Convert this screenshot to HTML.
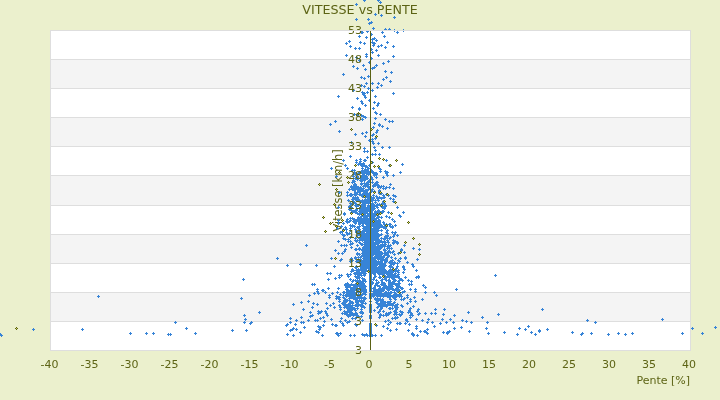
<!DOCTYPE html>
<html lang="fr"><head><meta charset="utf-8"><title>VITESSE vs PENTE</title>
<style>html,body{margin:0;padding:0;background:#ebf0cd;overflow:hidden}svg{display:block}text{font-family:"DejaVu Sans","Liberation Sans",sans-serif;fill:#5c6314}</style></head><body>
<svg width="720" height="400" viewBox="0 0 720 400">
<rect x="0" y="0" width="720" height="400" fill="#ebf0cd"/>
<rect x="50" y="30" width="641" height="321" fill="#ffffff"/>
<rect x="50" y="59" width="641" height="29" fill="#f4f4f4"/>
<rect x="50" y="117" width="641" height="29" fill="#f4f4f4"/>
<rect x="50" y="175" width="641" height="30" fill="#f4f4f4"/>
<rect x="50" y="234" width="641" height="29" fill="#f4f4f4"/>
<rect x="50" y="292" width="641" height="29" fill="#f4f4f4"/>
<rect x="50" y="30" width="641" height="1" fill="#dedede"/>
<rect x="50" y="59" width="641" height="1" fill="#dedede"/>
<rect x="50" y="88" width="641" height="1" fill="#dedede"/>
<rect x="50" y="117" width="641" height="1" fill="#dedede"/>
<rect x="50" y="146" width="641" height="1" fill="#dedede"/>
<rect x="50" y="175" width="641" height="1" fill="#dedede"/>
<rect x="50" y="205" width="641" height="1" fill="#dedede"/>
<rect x="50" y="234" width="641" height="1" fill="#dedede"/>
<rect x="50" y="263" width="641" height="1" fill="#dedede"/>
<rect x="50" y="292" width="641" height="1" fill="#dedede"/>
<rect x="50" y="321" width="641" height="1" fill="#dedede"/>
<rect x="50" y="350" width="641" height="1" fill="#dedede"/>
<rect x="50" y="30" width="1" height="321" fill="#dedede"/>
<rect x="690" y="30" width="1" height="321" fill="#dedede"/>
<g font-size="11" text-anchor="middle">
<text x="49.5" y="368">-40</text>
<text x="89.5" y="368">-35</text>
<text x="129.5" y="368">-30</text>
<text x="169.5" y="368">-25</text>
<text x="209.5" y="368">-20</text>
<text x="249.5" y="368">-15</text>
<text x="289.5" y="368">-10</text>
<text x="329.5" y="368">-5</text>
<text x="369.0" y="368">0</text>
<text x="409.0" y="368">5</text>
<text x="449.0" y="368">10</text>
<text x="489.0" y="368">15</text>
<text x="529.0" y="368">20</text>
<text x="569.0" y="368">25</text>
<text x="609.0" y="368">30</text>
<text x="649.0" y="368">35</text>
<text x="689.0" y="368">40</text>
</g>
<text x="690" y="383.5" font-size="11" text-anchor="end">Pente [%]</text>
<text x="360" y="13.6" font-size="12.7" text-anchor="middle">VITESSE vs PENTE</text>
<text transform="translate(341.8,190.4) rotate(-90)" font-size="11.4" text-anchor="middle">Vitesse [km/h]</text>
<path fill="#3784d7" d="M338 222h1v1h1v1h-1v1h-1v-1h-1v-1h1zM338 240h1v1h1v1h-1v1h-1v-1h-1v-1h1zM338 296h1v1h1v1h-1v1h-1v-1h-1v-1h1zM339 296h1v1h1v1h-1v1h-1v-1h-1v-1h1zM339 300h1v1h1v1h-1v1h-1v-1h-1v-1h1zM339 304h1v1h1v1h-1v1h-1v-1h-1v-1h1zM340 259h1v1h1v1h-1v1h-1v-1h-1v-1h1zM340 293h1v1h1v1h-1v1h-1v-1h-1v-1h1zM340 306h1v1h1v1h-1v1h-1v-1h-1v-1h1zM340 308h1v1h1v1h-1v1h-1v-1h-1v-1h1zM341 244h1v1h1v1h-1v1h-1v-1h-1v-1h1zM341 258h1v1h1v1h-1v1h-1v-1h-1v-1h1zM341 274h1v1h1v1h-1v1h-1v-1h-1v-1h1zM341 317h1v1h1v1h-1v1h-1v-1h-1v-1h1zM342 230h1v1h1v1h-1v1h-1v-1h-1v-1h1zM342 233h1v1h1v1h-1v1h-1v-1h-1v-1h1zM342 252h1v1h1v1h-1v1h-1v-1h-1v-1h1zM342 302h1v1h1v1h-1v1h-1v-1h-1v-1h1zM342 312h1v1h1v1h-1v1h-1v-1h-1v-1h1zM343 228h1v1h1v1h-1v1h-1v-1h-1v-1h1zM343 234h1v1h1v1h-1v1h-1v-1h-1v-1h1zM343 237h1v1h1v1h-1v1h-1v-1h-1v-1h1zM343 291h1v1h1v1h-1v1h-1v-1h-1v-1h1zM343 294h1v1h1v1h-1v1h-1v-1h-1v-1h1zM343 296h1v1h1v1h-1v1h-1v-1h-1v-1h1zM343 301h1v1h1v1h-1v1h-1v-1h-1v-1h1zM343 302h1v1h1v1h-1v1h-1v-1h-1v-1h1zM343 303h1v1h1v1h-1v1h-1v-1h-1v-1h1zM344 212h1v1h1v1h-1v1h-1v-1h-1v-1h1zM344 213h1v1h1v1h-1v1h-1v-1h-1v-1h1zM344 234h1v1h1v1h-1v1h-1v-1h-1v-1h1zM344 244h1v1h1v1h-1v1h-1v-1h-1v-1h1zM344 250h1v1h1v1h-1v1h-1v-1h-1v-1h1zM344 291h1v1h1v1h-1v1h-1v-1h-1v-1h1zM344 297h1v1h1v1h-1v1h-1v-1h-1v-1h1zM344 299h1v1h1v1h-1v1h-1v-1h-1v-1h1zM344 300h1v1h1v1h-1v1h-1v-1h-1v-1h1zM344 301h1v1h1v1h-1v1h-1v-1h-1v-1h1zM344 304h1v1h1v1h-1v1h-1v-1h-1v-1h1zM344 306h1v1h1v1h-1v1h-1v-1h-1v-1h1zM344 310h1v1h1v1h-1v1h-1v-1h-1v-1h1zM344 312h1v1h1v1h-1v1h-1v-1h-1v-1h1zM345 238h1v1h1v1h-1v1h-1v-1h-1v-1h1zM345 248h1v1h1v1h-1v1h-1v-1h-1v-1h1zM345 283h1v1h1v1h-1v1h-1v-1h-1v-1h1zM345 284h1v1h1v1h-1v1h-1v-1h-1v-1h1zM345 298h1v1h1v1h-1v1h-1v-1h-1v-1h1zM345 301h1v1h1v1h-1v1h-1v-1h-1v-1h1zM345 303h1v1h1v1h-1v1h-1v-1h-1v-1h1zM345 304h1v1h1v1h-1v1h-1v-1h-1v-1h1zM346 220h1v1h1v1h-1v1h-1v-1h-1v-1h1zM346 228h1v1h1v1h-1v1h-1v-1h-1v-1h1zM346 231h1v1h1v1h-1v1h-1v-1h-1v-1h1zM346 244h1v1h1v1h-1v1h-1v-1h-1v-1h1zM346 286h1v1h1v1h-1v1h-1v-1h-1v-1h1zM346 288h1v1h1v1h-1v1h-1v-1h-1v-1h1zM346 291h1v1h1v1h-1v1h-1v-1h-1v-1h1zM346 293h1v1h1v1h-1v1h-1v-1h-1v-1h1zM346 294h1v1h1v1h-1v1h-1v-1h-1v-1h1zM346 295h1v1h1v1h-1v1h-1v-1h-1v-1h1zM346 300h1v1h1v1h-1v1h-1v-1h-1v-1h1zM346 306h1v1h1v1h-1v1h-1v-1h-1v-1h1zM346 311h1v1h1v1h-1v1h-1v-1h-1v-1h1zM346 312h1v1h1v1h-1v1h-1v-1h-1v-1h1zM346 313h1v1h1v1h-1v1h-1v-1h-1v-1h1zM347 191h1v1h1v1h-1v1h-1v-1h-1v-1h1zM347 194h1v1h1v1h-1v1h-1v-1h-1v-1h1zM347 218h1v1h1v1h-1v1h-1v-1h-1v-1h1zM347 220h1v1h1v1h-1v1h-1v-1h-1v-1h1zM347 221h1v1h1v1h-1v1h-1v-1h-1v-1h1zM347 233h1v1h1v1h-1v1h-1v-1h-1v-1h1zM347 273h1v1h1v1h-1v1h-1v-1h-1v-1h1zM347 282h1v1h1v1h-1v1h-1v-1h-1v-1h1zM347 284h1v1h1v1h-1v1h-1v-1h-1v-1h1zM347 286h1v1h1v1h-1v1h-1v-1h-1v-1h1zM347 288h1v1h1v1h-1v1h-1v-1h-1v-1h1zM347 291h1v1h1v1h-1v1h-1v-1h-1v-1h1zM347 299h1v1h1v1h-1v1h-1v-1h-1v-1h1zM347 306h1v1h1v1h-1v1h-1v-1h-1v-1h1zM347 307h1v1h1v1h-1v1h-1v-1h-1v-1h1zM347 311h1v1h1v1h-1v1h-1v-1h-1v-1h1zM347 313h1v1h1v1h-1v1h-1v-1h-1v-1h1zM347 314h1v1h1v1h-1v1h-1v-1h-1v-1h1zM348 199h1v1h1v1h-1v1h-1v-1h-1v-1h1zM348 238h1v1h1v1h-1v1h-1v-1h-1v-1h1zM348 240h1v1h1v1h-1v1h-1v-1h-1v-1h1zM348 275h1v1h1v1h-1v1h-1v-1h-1v-1h1zM348 284h1v1h1v1h-1v1h-1v-1h-1v-1h1zM348 285h1v1h1v1h-1v1h-1v-1h-1v-1h1zM348 289h1v1h1v1h-1v1h-1v-1h-1v-1h1zM348 291h1v1h1v1h-1v1h-1v-1h-1v-1h1zM348 294h1v1h1v1h-1v1h-1v-1h-1v-1h1zM348 303h1v1h1v1h-1v1h-1v-1h-1v-1h1zM348 304h1v1h1v1h-1v1h-1v-1h-1v-1h1zM348 306h1v1h1v1h-1v1h-1v-1h-1v-1h1zM348 309h1v1h1v1h-1v1h-1v-1h-1v-1h1zM348 314h1v1h1v1h-1v1h-1v-1h-1v-1h1zM348 315h1v1h1v1h-1v1h-1v-1h-1v-1h1zM349 188h1v1h1v1h-1v1h-1v-1h-1v-1h1zM349 205h1v1h1v1h-1v1h-1v-1h-1v-1h1zM349 206h1v1h1v1h-1v1h-1v-1h-1v-1h1zM349 208h1v1h1v1h-1v1h-1v-1h-1v-1h1zM349 220h1v1h1v1h-1v1h-1v-1h-1v-1h1zM349 232h1v1h1v1h-1v1h-1v-1h-1v-1h1zM349 284h1v1h1v1h-1v1h-1v-1h-1v-1h1zM349 285h1v1h1v1h-1v1h-1v-1h-1v-1h1zM349 290h1v1h1v1h-1v1h-1v-1h-1v-1h1zM349 291h1v1h1v1h-1v1h-1v-1h-1v-1h1zM349 292h1v1h1v1h-1v1h-1v-1h-1v-1h1zM349 293h1v1h1v1h-1v1h-1v-1h-1v-1h1zM349 294h1v1h1v1h-1v1h-1v-1h-1v-1h1zM349 297h1v1h1v1h-1v1h-1v-1h-1v-1h1zM349 299h1v1h1v1h-1v1h-1v-1h-1v-1h1zM349 302h1v1h1v1h-1v1h-1v-1h-1v-1h1zM349 305h1v1h1v1h-1v1h-1v-1h-1v-1h1zM349 306h1v1h1v1h-1v1h-1v-1h-1v-1h1zM349 307h1v1h1v1h-1v1h-1v-1h-1v-1h1zM349 310h1v1h1v1h-1v1h-1v-1h-1v-1h1zM349 311h1v1h1v1h-1v1h-1v-1h-1v-1h1zM349 314h1v1h1v1h-1v1h-1v-1h-1v-1h1zM350 193h1v1h1v1h-1v1h-1v-1h-1v-1h1zM350 194h1v1h1v1h-1v1h-1v-1h-1v-1h1zM350 202h1v1h1v1h-1v1h-1v-1h-1v-1h1zM350 205h1v1h1v1h-1v1h-1v-1h-1v-1h1zM350 207h1v1h1v1h-1v1h-1v-1h-1v-1h1zM350 217h1v1h1v1h-1v1h-1v-1h-1v-1h1zM350 219h1v1h1v1h-1v1h-1v-1h-1v-1h1zM350 224h1v1h1v1h-1v1h-1v-1h-1v-1h1zM350 227h1v1h1v1h-1v1h-1v-1h-1v-1h1zM350 229h1v1h1v1h-1v1h-1v-1h-1v-1h1zM350 236h1v1h1v1h-1v1h-1v-1h-1v-1h1zM350 240h1v1h1v1h-1v1h-1v-1h-1v-1h1zM350 243h1v1h1v1h-1v1h-1v-1h-1v-1h1zM350 260h1v1h1v1h-1v1h-1v-1h-1v-1h1zM350 273h1v1h1v1h-1v1h-1v-1h-1v-1h1zM350 278h1v1h1v1h-1v1h-1v-1h-1v-1h1zM350 284h1v1h1v1h-1v1h-1v-1h-1v-1h1zM350 286h1v1h1v1h-1v1h-1v-1h-1v-1h1zM350 289h1v1h1v1h-1v1h-1v-1h-1v-1h1zM350 293h1v1h1v1h-1v1h-1v-1h-1v-1h1zM350 295h1v1h1v1h-1v1h-1v-1h-1v-1h1zM350 300h1v1h1v1h-1v1h-1v-1h-1v-1h1zM350 304h1v1h1v1h-1v1h-1v-1h-1v-1h1zM350 305h1v1h1v1h-1v1h-1v-1h-1v-1h1zM350 309h1v1h1v1h-1v1h-1v-1h-1v-1h1zM350 310h1v1h1v1h-1v1h-1v-1h-1v-1h1zM350 314h1v1h1v1h-1v1h-1v-1h-1v-1h1zM351 185h1v1h1v1h-1v1h-1v-1h-1v-1h1zM351 186h1v1h1v1h-1v1h-1v-1h-1v-1h1zM351 193h1v1h1v1h-1v1h-1v-1h-1v-1h1zM351 194h1v1h1v1h-1v1h-1v-1h-1v-1h1zM351 206h1v1h1v1h-1v1h-1v-1h-1v-1h1zM351 207h1v1h1v1h-1v1h-1v-1h-1v-1h1zM351 209h1v1h1v1h-1v1h-1v-1h-1v-1h1zM351 211h1v1h1v1h-1v1h-1v-1h-1v-1h1zM351 246h1v1h1v1h-1v1h-1v-1h-1v-1h1zM351 257h1v1h1v1h-1v1h-1v-1h-1v-1h1zM351 270h1v1h1v1h-1v1h-1v-1h-1v-1h1zM351 283h1v1h1v1h-1v1h-1v-1h-1v-1h1zM351 288h1v1h1v1h-1v1h-1v-1h-1v-1h1zM351 290h1v1h1v1h-1v1h-1v-1h-1v-1h1zM351 292h1v1h1v1h-1v1h-1v-1h-1v-1h1zM351 295h1v1h1v1h-1v1h-1v-1h-1v-1h1zM351 296h1v1h1v1h-1v1h-1v-1h-1v-1h1zM351 305h1v1h1v1h-1v1h-1v-1h-1v-1h1zM351 306h1v1h1v1h-1v1h-1v-1h-1v-1h1zM351 308h1v1h1v1h-1v1h-1v-1h-1v-1h1zM351 309h1v1h1v1h-1v1h-1v-1h-1v-1h1zM351 312h1v1h1v1h-1v1h-1v-1h-1v-1h1zM352 169h1v1h1v1h-1v1h-1v-1h-1v-1h1zM352 181h1v1h1v1h-1v1h-1v-1h-1v-1h1zM352 188h1v1h1v1h-1v1h-1v-1h-1v-1h1zM352 198h1v1h1v1h-1v1h-1v-1h-1v-1h1zM352 200h1v1h1v1h-1v1h-1v-1h-1v-1h1zM352 203h1v1h1v1h-1v1h-1v-1h-1v-1h1zM352 217h1v1h1v1h-1v1h-1v-1h-1v-1h1zM352 224h1v1h1v1h-1v1h-1v-1h-1v-1h1zM352 225h1v1h1v1h-1v1h-1v-1h-1v-1h1zM352 242h1v1h1v1h-1v1h-1v-1h-1v-1h1zM352 259h1v1h1v1h-1v1h-1v-1h-1v-1h1zM352 268h1v1h1v1h-1v1h-1v-1h-1v-1h1zM352 269h1v1h1v1h-1v1h-1v-1h-1v-1h1zM352 280h1v1h1v1h-1v1h-1v-1h-1v-1h1zM352 287h1v1h1v1h-1v1h-1v-1h-1v-1h1zM352 292h1v1h1v1h-1v1h-1v-1h-1v-1h1zM352 294h1v1h1v1h-1v1h-1v-1h-1v-1h1zM352 295h1v1h1v1h-1v1h-1v-1h-1v-1h1zM352 301h1v1h1v1h-1v1h-1v-1h-1v-1h1zM352 302h1v1h1v1h-1v1h-1v-1h-1v-1h1zM352 304h1v1h1v1h-1v1h-1v-1h-1v-1h1zM352 312h1v1h1v1h-1v1h-1v-1h-1v-1h1zM352 313h1v1h1v1h-1v1h-1v-1h-1v-1h1zM352 317h1v1h1v1h-1v1h-1v-1h-1v-1h1zM353 173h1v1h1v1h-1v1h-1v-1h-1v-1h1zM353 175h1v1h1v1h-1v1h-1v-1h-1v-1h1zM353 179h1v1h1v1h-1v1h-1v-1h-1v-1h1zM353 185h1v1h1v1h-1v1h-1v-1h-1v-1h1zM353 196h1v1h1v1h-1v1h-1v-1h-1v-1h1zM353 198h1v1h1v1h-1v1h-1v-1h-1v-1h1zM353 210h1v1h1v1h-1v1h-1v-1h-1v-1h1zM353 220h1v1h1v1h-1v1h-1v-1h-1v-1h1zM353 269h1v1h1v1h-1v1h-1v-1h-1v-1h1zM353 279h1v1h1v1h-1v1h-1v-1h-1v-1h1zM353 284h1v1h1v1h-1v1h-1v-1h-1v-1h1zM353 286h1v1h1v1h-1v1h-1v-1h-1v-1h1zM353 289h1v1h1v1h-1v1h-1v-1h-1v-1h1zM353 292h1v1h1v1h-1v1h-1v-1h-1v-1h1zM353 297h1v1h1v1h-1v1h-1v-1h-1v-1h1zM353 307h1v1h1v1h-1v1h-1v-1h-1v-1h1zM353 314h1v1h1v1h-1v1h-1v-1h-1v-1h1zM354 171h1v1h1v1h-1v1h-1v-1h-1v-1h1zM354 180h1v1h1v1h-1v1h-1v-1h-1v-1h1zM354 183h1v1h1v1h-1v1h-1v-1h-1v-1h1zM354 185h1v1h1v1h-1v1h-1v-1h-1v-1h1zM354 187h1v1h1v1h-1v1h-1v-1h-1v-1h1zM354 189h1v1h1v1h-1v1h-1v-1h-1v-1h1zM354 193h1v1h1v1h-1v1h-1v-1h-1v-1h1zM354 197h1v1h1v1h-1v1h-1v-1h-1v-1h1zM354 201h1v1h1v1h-1v1h-1v-1h-1v-1h1zM354 218h1v1h1v1h-1v1h-1v-1h-1v-1h1zM354 220h1v1h1v1h-1v1h-1v-1h-1v-1h1zM354 225h1v1h1v1h-1v1h-1v-1h-1v-1h1zM354 272h1v1h1v1h-1v1h-1v-1h-1v-1h1zM354 284h1v1h1v1h-1v1h-1v-1h-1v-1h1zM354 285h1v1h1v1h-1v1h-1v-1h-1v-1h1zM354 291h1v1h1v1h-1v1h-1v-1h-1v-1h1zM354 293h1v1h1v1h-1v1h-1v-1h-1v-1h1zM354 295h1v1h1v1h-1v1h-1v-1h-1v-1h1zM354 296h1v1h1v1h-1v1h-1v-1h-1v-1h1zM354 307h1v1h1v1h-1v1h-1v-1h-1v-1h1zM354 308h1v1h1v1h-1v1h-1v-1h-1v-1h1zM355 173h1v1h1v1h-1v1h-1v-1h-1v-1h1zM355 177h1v1h1v1h-1v1h-1v-1h-1v-1h1zM355 183h1v1h1v1h-1v1h-1v-1h-1v-1h1zM355 187h1v1h1v1h-1v1h-1v-1h-1v-1h1zM355 191h1v1h1v1h-1v1h-1v-1h-1v-1h1zM355 194h1v1h1v1h-1v1h-1v-1h-1v-1h1zM355 196h1v1h1v1h-1v1h-1v-1h-1v-1h1zM355 197h1v1h1v1h-1v1h-1v-1h-1v-1h1zM355 202h1v1h1v1h-1v1h-1v-1h-1v-1h1zM355 204h1v1h1v1h-1v1h-1v-1h-1v-1h1zM355 209h1v1h1v1h-1v1h-1v-1h-1v-1h1zM355 211h1v1h1v1h-1v1h-1v-1h-1v-1h1zM355 220h1v1h1v1h-1v1h-1v-1h-1v-1h1zM355 221h1v1h1v1h-1v1h-1v-1h-1v-1h1zM355 222h1v1h1v1h-1v1h-1v-1h-1v-1h1zM355 228h1v1h1v1h-1v1h-1v-1h-1v-1h1zM355 237h1v1h1v1h-1v1h-1v-1h-1v-1h1zM355 239h1v1h1v1h-1v1h-1v-1h-1v-1h1zM355 248h1v1h1v1h-1v1h-1v-1h-1v-1h1zM355 256h1v1h1v1h-1v1h-1v-1h-1v-1h1zM355 257h1v1h1v1h-1v1h-1v-1h-1v-1h1zM355 266h1v1h1v1h-1v1h-1v-1h-1v-1h1zM355 272h1v1h1v1h-1v1h-1v-1h-1v-1h1zM355 275h1v1h1v1h-1v1h-1v-1h-1v-1h1zM355 279h1v1h1v1h-1v1h-1v-1h-1v-1h1zM355 283h1v1h1v1h-1v1h-1v-1h-1v-1h1zM355 287h1v1h1v1h-1v1h-1v-1h-1v-1h1zM355 288h1v1h1v1h-1v1h-1v-1h-1v-1h1zM355 292h1v1h1v1h-1v1h-1v-1h-1v-1h1zM355 294h1v1h1v1h-1v1h-1v-1h-1v-1h1zM355 296h1v1h1v1h-1v1h-1v-1h-1v-1h1zM355 298h1v1h1v1h-1v1h-1v-1h-1v-1h1zM355 304h1v1h1v1h-1v1h-1v-1h-1v-1h1zM355 309h1v1h1v1h-1v1h-1v-1h-1v-1h1zM355 312h1v1h1v1h-1v1h-1v-1h-1v-1h1zM355 313h1v1h1v1h-1v1h-1v-1h-1v-1h1zM355 317h1v1h1v1h-1v1h-1v-1h-1v-1h1zM356 185h1v1h1v1h-1v1h-1v-1h-1v-1h1zM356 192h1v1h1v1h-1v1h-1v-1h-1v-1h1zM356 193h1v1h1v1h-1v1h-1v-1h-1v-1h1zM356 198h1v1h1v1h-1v1h-1v-1h-1v-1h1zM356 199h1v1h1v1h-1v1h-1v-1h-1v-1h1zM356 203h1v1h1v1h-1v1h-1v-1h-1v-1h1zM356 205h1v1h1v1h-1v1h-1v-1h-1v-1h1zM356 208h1v1h1v1h-1v1h-1v-1h-1v-1h1zM356 209h1v1h1v1h-1v1h-1v-1h-1v-1h1zM356 230h1v1h1v1h-1v1h-1v-1h-1v-1h1zM356 231h1v1h1v1h-1v1h-1v-1h-1v-1h1zM356 240h1v1h1v1h-1v1h-1v-1h-1v-1h1zM356 248h1v1h1v1h-1v1h-1v-1h-1v-1h1zM356 260h1v1h1v1h-1v1h-1v-1h-1v-1h1zM356 265h1v1h1v1h-1v1h-1v-1h-1v-1h1zM356 266h1v1h1v1h-1v1h-1v-1h-1v-1h1zM356 269h1v1h1v1h-1v1h-1v-1h-1v-1h1zM356 271h1v1h1v1h-1v1h-1v-1h-1v-1h1zM356 272h1v1h1v1h-1v1h-1v-1h-1v-1h1zM356 276h1v1h1v1h-1v1h-1v-1h-1v-1h1zM356 280h1v1h1v1h-1v1h-1v-1h-1v-1h1zM356 283h1v1h1v1h-1v1h-1v-1h-1v-1h1zM356 286h1v1h1v1h-1v1h-1v-1h-1v-1h1zM356 291h1v1h1v1h-1v1h-1v-1h-1v-1h1zM356 293h1v1h1v1h-1v1h-1v-1h-1v-1h1zM356 297h1v1h1v1h-1v1h-1v-1h-1v-1h1zM356 300h1v1h1v1h-1v1h-1v-1h-1v-1h1zM356 301h1v1h1v1h-1v1h-1v-1h-1v-1h1zM356 312h1v1h1v1h-1v1h-1v-1h-1v-1h1zM356 316h1v1h1v1h-1v1h-1v-1h-1v-1h1zM357 175h1v1h1v1h-1v1h-1v-1h-1v-1h1zM357 176h1v1h1v1h-1v1h-1v-1h-1v-1h1zM357 178h1v1h1v1h-1v1h-1v-1h-1v-1h1zM357 188h1v1h1v1h-1v1h-1v-1h-1v-1h1zM357 191h1v1h1v1h-1v1h-1v-1h-1v-1h1zM357 196h1v1h1v1h-1v1h-1v-1h-1v-1h1zM357 197h1v1h1v1h-1v1h-1v-1h-1v-1h1zM357 198h1v1h1v1h-1v1h-1v-1h-1v-1h1zM357 212h1v1h1v1h-1v1h-1v-1h-1v-1h1zM357 218h1v1h1v1h-1v1h-1v-1h-1v-1h1zM357 219h1v1h1v1h-1v1h-1v-1h-1v-1h1zM357 226h1v1h1v1h-1v1h-1v-1h-1v-1h1zM357 234h1v1h1v1h-1v1h-1v-1h-1v-1h1zM357 239h1v1h1v1h-1v1h-1v-1h-1v-1h1zM357 244h1v1h1v1h-1v1h-1v-1h-1v-1h1zM357 252h1v1h1v1h-1v1h-1v-1h-1v-1h1zM357 253h1v1h1v1h-1v1h-1v-1h-1v-1h1zM357 260h1v1h1v1h-1v1h-1v-1h-1v-1h1zM357 269h1v1h1v1h-1v1h-1v-1h-1v-1h1zM357 271h1v1h1v1h-1v1h-1v-1h-1v-1h1zM357 272h1v1h1v1h-1v1h-1v-1h-1v-1h1zM357 277h1v1h1v1h-1v1h-1v-1h-1v-1h1zM357 280h1v1h1v1h-1v1h-1v-1h-1v-1h1zM357 282h1v1h1v1h-1v1h-1v-1h-1v-1h1zM357 285h1v1h1v1h-1v1h-1v-1h-1v-1h1zM357 288h1v1h1v1h-1v1h-1v-1h-1v-1h1zM357 294h1v1h1v1h-1v1h-1v-1h-1v-1h1zM357 297h1v1h1v1h-1v1h-1v-1h-1v-1h1zM357 300h1v1h1v1h-1v1h-1v-1h-1v-1h1zM357 301h1v1h1v1h-1v1h-1v-1h-1v-1h1zM357 303h1v1h1v1h-1v1h-1v-1h-1v-1h1zM357 304h1v1h1v1h-1v1h-1v-1h-1v-1h1zM357 305h1v1h1v1h-1v1h-1v-1h-1v-1h1zM357 307h1v1h1v1h-1v1h-1v-1h-1v-1h1zM357 314h1v1h1v1h-1v1h-1v-1h-1v-1h1zM358 172h1v1h1v1h-1v1h-1v-1h-1v-1h1zM358 186h1v1h1v1h-1v1h-1v-1h-1v-1h1zM358 189h1v1h1v1h-1v1h-1v-1h-1v-1h1zM358 190h1v1h1v1h-1v1h-1v-1h-1v-1h1zM358 199h1v1h1v1h-1v1h-1v-1h-1v-1h1zM358 204h1v1h1v1h-1v1h-1v-1h-1v-1h1zM358 216h1v1h1v1h-1v1h-1v-1h-1v-1h1zM358 220h1v1h1v1h-1v1h-1v-1h-1v-1h1zM358 227h1v1h1v1h-1v1h-1v-1h-1v-1h1zM358 231h1v1h1v1h-1v1h-1v-1h-1v-1h1zM358 256h1v1h1v1h-1v1h-1v-1h-1v-1h1zM358 259h1v1h1v1h-1v1h-1v-1h-1v-1h1zM358 268h1v1h1v1h-1v1h-1v-1h-1v-1h1zM358 269h1v1h1v1h-1v1h-1v-1h-1v-1h1zM358 270h1v1h1v1h-1v1h-1v-1h-1v-1h1zM358 272h1v1h1v1h-1v1h-1v-1h-1v-1h1zM358 274h1v1h1v1h-1v1h-1v-1h-1v-1h1zM358 275h1v1h1v1h-1v1h-1v-1h-1v-1h1zM358 282h1v1h1v1h-1v1h-1v-1h-1v-1h1zM358 283h1v1h1v1h-1v1h-1v-1h-1v-1h1zM358 290h1v1h1v1h-1v1h-1v-1h-1v-1h1zM358 291h1v1h1v1h-1v1h-1v-1h-1v-1h1zM358 293h1v1h1v1h-1v1h-1v-1h-1v-1h1zM358 294h1v1h1v1h-1v1h-1v-1h-1v-1h1zM358 295h1v1h1v1h-1v1h-1v-1h-1v-1h1zM358 303h1v1h1v1h-1v1h-1v-1h-1v-1h1zM358 315h1v1h1v1h-1v1h-1v-1h-1v-1h1zM359 171h1v1h1v1h-1v1h-1v-1h-1v-1h1zM359 187h1v1h1v1h-1v1h-1v-1h-1v-1h1zM359 188h1v1h1v1h-1v1h-1v-1h-1v-1h1zM359 191h1v1h1v1h-1v1h-1v-1h-1v-1h1zM359 193h1v1h1v1h-1v1h-1v-1h-1v-1h1zM359 199h1v1h1v1h-1v1h-1v-1h-1v-1h1zM359 207h1v1h1v1h-1v1h-1v-1h-1v-1h1zM359 210h1v1h1v1h-1v1h-1v-1h-1v-1h1zM359 213h1v1h1v1h-1v1h-1v-1h-1v-1h1zM359 217h1v1h1v1h-1v1h-1v-1h-1v-1h1zM359 218h1v1h1v1h-1v1h-1v-1h-1v-1h1zM359 219h1v1h1v1h-1v1h-1v-1h-1v-1h1zM359 222h1v1h1v1h-1v1h-1v-1h-1v-1h1zM359 223h1v1h1v1h-1v1h-1v-1h-1v-1h1zM359 225h1v1h1v1h-1v1h-1v-1h-1v-1h1zM359 228h1v1h1v1h-1v1h-1v-1h-1v-1h1zM359 231h1v1h1v1h-1v1h-1v-1h-1v-1h1zM359 233h1v1h1v1h-1v1h-1v-1h-1v-1h1zM359 237h1v1h1v1h-1v1h-1v-1h-1v-1h1zM359 239h1v1h1v1h-1v1h-1v-1h-1v-1h1zM359 241h1v1h1v1h-1v1h-1v-1h-1v-1h1zM359 247h1v1h1v1h-1v1h-1v-1h-1v-1h1zM359 248h1v1h1v1h-1v1h-1v-1h-1v-1h1zM359 253h1v1h1v1h-1v1h-1v-1h-1v-1h1zM359 261h1v1h1v1h-1v1h-1v-1h-1v-1h1zM359 272h1v1h1v1h-1v1h-1v-1h-1v-1h1zM359 276h1v1h1v1h-1v1h-1v-1h-1v-1h1zM359 279h1v1h1v1h-1v1h-1v-1h-1v-1h1zM359 280h1v1h1v1h-1v1h-1v-1h-1v-1h1zM359 284h1v1h1v1h-1v1h-1v-1h-1v-1h1zM359 287h1v1h1v1h-1v1h-1v-1h-1v-1h1zM359 294h1v1h1v1h-1v1h-1v-1h-1v-1h1zM359 297h1v1h1v1h-1v1h-1v-1h-1v-1h1zM359 299h1v1h1v1h-1v1h-1v-1h-1v-1h1zM360 177h1v1h1v1h-1v1h-1v-1h-1v-1h1zM360 179h1v1h1v1h-1v1h-1v-1h-1v-1h1zM360 186h1v1h1v1h-1v1h-1v-1h-1v-1h1zM360 188h1v1h1v1h-1v1h-1v-1h-1v-1h1zM360 189h1v1h1v1h-1v1h-1v-1h-1v-1h1zM360 193h1v1h1v1h-1v1h-1v-1h-1v-1h1zM360 200h1v1h1v1h-1v1h-1v-1h-1v-1h1zM360 216h1v1h1v1h-1v1h-1v-1h-1v-1h1zM360 217h1v1h1v1h-1v1h-1v-1h-1v-1h1zM360 218h1v1h1v1h-1v1h-1v-1h-1v-1h1zM360 219h1v1h1v1h-1v1h-1v-1h-1v-1h1zM360 221h1v1h1v1h-1v1h-1v-1h-1v-1h1zM360 232h1v1h1v1h-1v1h-1v-1h-1v-1h1zM360 237h1v1h1v1h-1v1h-1v-1h-1v-1h1zM360 238h1v1h1v1h-1v1h-1v-1h-1v-1h1zM360 242h1v1h1v1h-1v1h-1v-1h-1v-1h1zM360 256h1v1h1v1h-1v1h-1v-1h-1v-1h1zM360 258h1v1h1v1h-1v1h-1v-1h-1v-1h1zM360 261h1v1h1v1h-1v1h-1v-1h-1v-1h1zM360 265h1v1h1v1h-1v1h-1v-1h-1v-1h1zM360 268h1v1h1v1h-1v1h-1v-1h-1v-1h1zM360 272h1v1h1v1h-1v1h-1v-1h-1v-1h1zM360 280h1v1h1v1h-1v1h-1v-1h-1v-1h1zM360 281h1v1h1v1h-1v1h-1v-1h-1v-1h1zM360 284h1v1h1v1h-1v1h-1v-1h-1v-1h1zM360 287h1v1h1v1h-1v1h-1v-1h-1v-1h1zM360 291h1v1h1v1h-1v1h-1v-1h-1v-1h1zM360 293h1v1h1v1h-1v1h-1v-1h-1v-1h1zM360 295h1v1h1v1h-1v1h-1v-1h-1v-1h1zM360 296h1v1h1v1h-1v1h-1v-1h-1v-1h1zM360 304h1v1h1v1h-1v1h-1v-1h-1v-1h1zM360 311h1v1h1v1h-1v1h-1v-1h-1v-1h1zM361 163h1v1h1v1h-1v1h-1v-1h-1v-1h1zM361 164h1v1h1v1h-1v1h-1v-1h-1v-1h1zM361 170h1v1h1v1h-1v1h-1v-1h-1v-1h1zM361 171h1v1h1v1h-1v1h-1v-1h-1v-1h1zM361 175h1v1h1v1h-1v1h-1v-1h-1v-1h1zM361 179h1v1h1v1h-1v1h-1v-1h-1v-1h1zM361 180h1v1h1v1h-1v1h-1v-1h-1v-1h1zM361 182h1v1h1v1h-1v1h-1v-1h-1v-1h1zM361 183h1v1h1v1h-1v1h-1v-1h-1v-1h1zM361 188h1v1h1v1h-1v1h-1v-1h-1v-1h1zM361 189h1v1h1v1h-1v1h-1v-1h-1v-1h1zM361 200h1v1h1v1h-1v1h-1v-1h-1v-1h1zM361 204h1v1h1v1h-1v1h-1v-1h-1v-1h1zM361 208h1v1h1v1h-1v1h-1v-1h-1v-1h1zM361 209h1v1h1v1h-1v1h-1v-1h-1v-1h1zM361 211h1v1h1v1h-1v1h-1v-1h-1v-1h1zM361 212h1v1h1v1h-1v1h-1v-1h-1v-1h1zM361 215h1v1h1v1h-1v1h-1v-1h-1v-1h1zM361 217h1v1h1v1h-1v1h-1v-1h-1v-1h1zM361 221h1v1h1v1h-1v1h-1v-1h-1v-1h1zM361 232h1v1h1v1h-1v1h-1v-1h-1v-1h1zM361 233h1v1h1v1h-1v1h-1v-1h-1v-1h1zM361 243h1v1h1v1h-1v1h-1v-1h-1v-1h1zM361 255h1v1h1v1h-1v1h-1v-1h-1v-1h1zM361 260h1v1h1v1h-1v1h-1v-1h-1v-1h1zM361 262h1v1h1v1h-1v1h-1v-1h-1v-1h1zM361 263h1v1h1v1h-1v1h-1v-1h-1v-1h1zM361 267h1v1h1v1h-1v1h-1v-1h-1v-1h1zM361 268h1v1h1v1h-1v1h-1v-1h-1v-1h1zM361 272h1v1h1v1h-1v1h-1v-1h-1v-1h1zM361 274h1v1h1v1h-1v1h-1v-1h-1v-1h1zM361 283h1v1h1v1h-1v1h-1v-1h-1v-1h1zM361 284h1v1h1v1h-1v1h-1v-1h-1v-1h1zM361 285h1v1h1v1h-1v1h-1v-1h-1v-1h1zM361 286h1v1h1v1h-1v1h-1v-1h-1v-1h1zM361 287h1v1h1v1h-1v1h-1v-1h-1v-1h1zM361 289h1v1h1v1h-1v1h-1v-1h-1v-1h1zM361 294h1v1h1v1h-1v1h-1v-1h-1v-1h1zM361 296h1v1h1v1h-1v1h-1v-1h-1v-1h1zM361 297h1v1h1v1h-1v1h-1v-1h-1v-1h1zM361 299h1v1h1v1h-1v1h-1v-1h-1v-1h1zM361 300h1v1h1v1h-1v1h-1v-1h-1v-1h1zM361 301h1v1h1v1h-1v1h-1v-1h-1v-1h1zM361 303h1v1h1v1h-1v1h-1v-1h-1v-1h1zM361 305h1v1h1v1h-1v1h-1v-1h-1v-1h1zM361 308h1v1h1v1h-1v1h-1v-1h-1v-1h1zM361 310h1v1h1v1h-1v1h-1v-1h-1v-1h1zM361 315h1v1h1v1h-1v1h-1v-1h-1v-1h1zM362 165h1v1h1v1h-1v1h-1v-1h-1v-1h1zM362 170h1v1h1v1h-1v1h-1v-1h-1v-1h1zM362 172h1v1h1v1h-1v1h-1v-1h-1v-1h1zM362 174h1v1h1v1h-1v1h-1v-1h-1v-1h1zM362 178h1v1h1v1h-1v1h-1v-1h-1v-1h1zM362 188h1v1h1v1h-1v1h-1v-1h-1v-1h1zM362 193h1v1h1v1h-1v1h-1v-1h-1v-1h1zM362 194h1v1h1v1h-1v1h-1v-1h-1v-1h1zM362 195h1v1h1v1h-1v1h-1v-1h-1v-1h1zM362 199h1v1h1v1h-1v1h-1v-1h-1v-1h1zM362 201h1v1h1v1h-1v1h-1v-1h-1v-1h1zM362 204h1v1h1v1h-1v1h-1v-1h-1v-1h1zM362 205h1v1h1v1h-1v1h-1v-1h-1v-1h1zM362 206h1v1h1v1h-1v1h-1v-1h-1v-1h1zM362 207h1v1h1v1h-1v1h-1v-1h-1v-1h1zM362 209h1v1h1v1h-1v1h-1v-1h-1v-1h1zM362 211h1v1h1v1h-1v1h-1v-1h-1v-1h1zM362 220h1v1h1v1h-1v1h-1v-1h-1v-1h1zM362 221h1v1h1v1h-1v1h-1v-1h-1v-1h1zM362 224h1v1h1v1h-1v1h-1v-1h-1v-1h1zM362 230h1v1h1v1h-1v1h-1v-1h-1v-1h1zM362 232h1v1h1v1h-1v1h-1v-1h-1v-1h1zM362 235h1v1h1v1h-1v1h-1v-1h-1v-1h1zM362 236h1v1h1v1h-1v1h-1v-1h-1v-1h1zM362 237h1v1h1v1h-1v1h-1v-1h-1v-1h1zM362 238h1v1h1v1h-1v1h-1v-1h-1v-1h1zM362 239h1v1h1v1h-1v1h-1v-1h-1v-1h1zM362 243h1v1h1v1h-1v1h-1v-1h-1v-1h1zM362 248h1v1h1v1h-1v1h-1v-1h-1v-1h1zM362 249h1v1h1v1h-1v1h-1v-1h-1v-1h1zM362 252h1v1h1v1h-1v1h-1v-1h-1v-1h1zM362 254h1v1h1v1h-1v1h-1v-1h-1v-1h1zM362 260h1v1h1v1h-1v1h-1v-1h-1v-1h1zM362 261h1v1h1v1h-1v1h-1v-1h-1v-1h1zM362 262h1v1h1v1h-1v1h-1v-1h-1v-1h1zM362 263h1v1h1v1h-1v1h-1v-1h-1v-1h1zM362 264h1v1h1v1h-1v1h-1v-1h-1v-1h1zM362 265h1v1h1v1h-1v1h-1v-1h-1v-1h1zM362 270h1v1h1v1h-1v1h-1v-1h-1v-1h1zM362 277h1v1h1v1h-1v1h-1v-1h-1v-1h1zM362 280h1v1h1v1h-1v1h-1v-1h-1v-1h1zM362 282h1v1h1v1h-1v1h-1v-1h-1v-1h1zM362 288h1v1h1v1h-1v1h-1v-1h-1v-1h1zM362 293h1v1h1v1h-1v1h-1v-1h-1v-1h1zM362 300h1v1h1v1h-1v1h-1v-1h-1v-1h1zM362 302h1v1h1v1h-1v1h-1v-1h-1v-1h1zM362 304h1v1h1v1h-1v1h-1v-1h-1v-1h1zM362 305h1v1h1v1h-1v1h-1v-1h-1v-1h1zM362 311h1v1h1v1h-1v1h-1v-1h-1v-1h1zM362 312h1v1h1v1h-1v1h-1v-1h-1v-1h1zM363 171h1v1h1v1h-1v1h-1v-1h-1v-1h1zM363 174h1v1h1v1h-1v1h-1v-1h-1v-1h1zM363 175h1v1h1v1h-1v1h-1v-1h-1v-1h1zM363 176h1v1h1v1h-1v1h-1v-1h-1v-1h1zM363 185h1v1h1v1h-1v1h-1v-1h-1v-1h1zM363 187h1v1h1v1h-1v1h-1v-1h-1v-1h1zM363 189h1v1h1v1h-1v1h-1v-1h-1v-1h1zM363 190h1v1h1v1h-1v1h-1v-1h-1v-1h1zM363 193h1v1h1v1h-1v1h-1v-1h-1v-1h1zM363 195h1v1h1v1h-1v1h-1v-1h-1v-1h1zM363 201h1v1h1v1h-1v1h-1v-1h-1v-1h1zM363 202h1v1h1v1h-1v1h-1v-1h-1v-1h1zM363 203h1v1h1v1h-1v1h-1v-1h-1v-1h1zM363 204h1v1h1v1h-1v1h-1v-1h-1v-1h1zM363 209h1v1h1v1h-1v1h-1v-1h-1v-1h1zM363 210h1v1h1v1h-1v1h-1v-1h-1v-1h1zM363 214h1v1h1v1h-1v1h-1v-1h-1v-1h1zM363 215h1v1h1v1h-1v1h-1v-1h-1v-1h1zM363 217h1v1h1v1h-1v1h-1v-1h-1v-1h1zM363 218h1v1h1v1h-1v1h-1v-1h-1v-1h1zM363 222h1v1h1v1h-1v1h-1v-1h-1v-1h1zM363 225h1v1h1v1h-1v1h-1v-1h-1v-1h1zM363 227h1v1h1v1h-1v1h-1v-1h-1v-1h1zM363 230h1v1h1v1h-1v1h-1v-1h-1v-1h1zM363 232h1v1h1v1h-1v1h-1v-1h-1v-1h1zM363 234h1v1h1v1h-1v1h-1v-1h-1v-1h1zM363 236h1v1h1v1h-1v1h-1v-1h-1v-1h1zM363 237h1v1h1v1h-1v1h-1v-1h-1v-1h1zM363 238h1v1h1v1h-1v1h-1v-1h-1v-1h1zM363 246h1v1h1v1h-1v1h-1v-1h-1v-1h1zM363 247h1v1h1v1h-1v1h-1v-1h-1v-1h1zM363 249h1v1h1v1h-1v1h-1v-1h-1v-1h1zM363 251h1v1h1v1h-1v1h-1v-1h-1v-1h1zM363 252h1v1h1v1h-1v1h-1v-1h-1v-1h1zM363 255h1v1h1v1h-1v1h-1v-1h-1v-1h1zM363 257h1v1h1v1h-1v1h-1v-1h-1v-1h1zM363 260h1v1h1v1h-1v1h-1v-1h-1v-1h1zM363 262h1v1h1v1h-1v1h-1v-1h-1v-1h1zM363 263h1v1h1v1h-1v1h-1v-1h-1v-1h1zM363 264h1v1h1v1h-1v1h-1v-1h-1v-1h1zM363 265h1v1h1v1h-1v1h-1v-1h-1v-1h1zM363 267h1v1h1v1h-1v1h-1v-1h-1v-1h1zM363 268h1v1h1v1h-1v1h-1v-1h-1v-1h1zM363 269h1v1h1v1h-1v1h-1v-1h-1v-1h1zM363 272h1v1h1v1h-1v1h-1v-1h-1v-1h1zM363 282h1v1h1v1h-1v1h-1v-1h-1v-1h1zM363 283h1v1h1v1h-1v1h-1v-1h-1v-1h1zM363 286h1v1h1v1h-1v1h-1v-1h-1v-1h1zM363 289h1v1h1v1h-1v1h-1v-1h-1v-1h1zM363 290h1v1h1v1h-1v1h-1v-1h-1v-1h1zM363 292h1v1h1v1h-1v1h-1v-1h-1v-1h1zM363 299h1v1h1v1h-1v1h-1v-1h-1v-1h1zM363 300h1v1h1v1h-1v1h-1v-1h-1v-1h1zM364 159h1v1h1v1h-1v1h-1v-1h-1v-1h1zM364 169h1v1h1v1h-1v1h-1v-1h-1v-1h1zM364 170h1v1h1v1h-1v1h-1v-1h-1v-1h1zM364 172h1v1h1v1h-1v1h-1v-1h-1v-1h1zM364 174h1v1h1v1h-1v1h-1v-1h-1v-1h1zM364 177h1v1h1v1h-1v1h-1v-1h-1v-1h1zM364 179h1v1h1v1h-1v1h-1v-1h-1v-1h1zM364 182h1v1h1v1h-1v1h-1v-1h-1v-1h1zM364 184h1v1h1v1h-1v1h-1v-1h-1v-1h1zM364 191h1v1h1v1h-1v1h-1v-1h-1v-1h1zM364 193h1v1h1v1h-1v1h-1v-1h-1v-1h1zM364 194h1v1h1v1h-1v1h-1v-1h-1v-1h1zM364 199h1v1h1v1h-1v1h-1v-1h-1v-1h1zM364 200h1v1h1v1h-1v1h-1v-1h-1v-1h1zM364 201h1v1h1v1h-1v1h-1v-1h-1v-1h1zM364 203h1v1h1v1h-1v1h-1v-1h-1v-1h1zM364 204h1v1h1v1h-1v1h-1v-1h-1v-1h1zM364 205h1v1h1v1h-1v1h-1v-1h-1v-1h1zM364 207h1v1h1v1h-1v1h-1v-1h-1v-1h1zM364 209h1v1h1v1h-1v1h-1v-1h-1v-1h1zM364 210h1v1h1v1h-1v1h-1v-1h-1v-1h1zM364 211h1v1h1v1h-1v1h-1v-1h-1v-1h1zM364 212h1v1h1v1h-1v1h-1v-1h-1v-1h1zM364 214h1v1h1v1h-1v1h-1v-1h-1v-1h1zM364 215h1v1h1v1h-1v1h-1v-1h-1v-1h1zM364 218h1v1h1v1h-1v1h-1v-1h-1v-1h1zM364 219h1v1h1v1h-1v1h-1v-1h-1v-1h1zM364 220h1v1h1v1h-1v1h-1v-1h-1v-1h1zM364 221h1v1h1v1h-1v1h-1v-1h-1v-1h1zM364 226h1v1h1v1h-1v1h-1v-1h-1v-1h1zM364 227h1v1h1v1h-1v1h-1v-1h-1v-1h1zM364 229h1v1h1v1h-1v1h-1v-1h-1v-1h1zM364 230h1v1h1v1h-1v1h-1v-1h-1v-1h1zM364 236h1v1h1v1h-1v1h-1v-1h-1v-1h1zM364 237h1v1h1v1h-1v1h-1v-1h-1v-1h1zM364 238h1v1h1v1h-1v1h-1v-1h-1v-1h1zM364 241h1v1h1v1h-1v1h-1v-1h-1v-1h1zM364 243h1v1h1v1h-1v1h-1v-1h-1v-1h1zM364 246h1v1h1v1h-1v1h-1v-1h-1v-1h1zM364 247h1v1h1v1h-1v1h-1v-1h-1v-1h1zM364 248h1v1h1v1h-1v1h-1v-1h-1v-1h1zM364 250h1v1h1v1h-1v1h-1v-1h-1v-1h1zM364 251h1v1h1v1h-1v1h-1v-1h-1v-1h1zM364 252h1v1h1v1h-1v1h-1v-1h-1v-1h1zM364 254h1v1h1v1h-1v1h-1v-1h-1v-1h1zM364 256h1v1h1v1h-1v1h-1v-1h-1v-1h1zM364 257h1v1h1v1h-1v1h-1v-1h-1v-1h1zM364 258h1v1h1v1h-1v1h-1v-1h-1v-1h1zM364 259h1v1h1v1h-1v1h-1v-1h-1v-1h1zM364 260h1v1h1v1h-1v1h-1v-1h-1v-1h1zM364 264h1v1h1v1h-1v1h-1v-1h-1v-1h1zM364 265h1v1h1v1h-1v1h-1v-1h-1v-1h1zM364 266h1v1h1v1h-1v1h-1v-1h-1v-1h1zM364 267h1v1h1v1h-1v1h-1v-1h-1v-1h1zM364 271h1v1h1v1h-1v1h-1v-1h-1v-1h1zM364 272h1v1h1v1h-1v1h-1v-1h-1v-1h1zM364 274h1v1h1v1h-1v1h-1v-1h-1v-1h1zM364 278h1v1h1v1h-1v1h-1v-1h-1v-1h1zM364 279h1v1h1v1h-1v1h-1v-1h-1v-1h1zM364 284h1v1h1v1h-1v1h-1v-1h-1v-1h1zM364 285h1v1h1v1h-1v1h-1v-1h-1v-1h1zM364 286h1v1h1v1h-1v1h-1v-1h-1v-1h1zM364 287h1v1h1v1h-1v1h-1v-1h-1v-1h1zM364 290h1v1h1v1h-1v1h-1v-1h-1v-1h1zM364 292h1v1h1v1h-1v1h-1v-1h-1v-1h1zM364 296h1v1h1v1h-1v1h-1v-1h-1v-1h1zM364 297h1v1h1v1h-1v1h-1v-1h-1v-1h1zM364 306h1v1h1v1h-1v1h-1v-1h-1v-1h1zM365 159h1v1h1v1h-1v1h-1v-1h-1v-1h1zM365 171h1v1h1v1h-1v1h-1v-1h-1v-1h1zM365 176h1v1h1v1h-1v1h-1v-1h-1v-1h1zM365 178h1v1h1v1h-1v1h-1v-1h-1v-1h1zM365 185h1v1h1v1h-1v1h-1v-1h-1v-1h1zM365 189h1v1h1v1h-1v1h-1v-1h-1v-1h1zM365 195h1v1h1v1h-1v1h-1v-1h-1v-1h1zM365 198h1v1h1v1h-1v1h-1v-1h-1v-1h1zM365 202h1v1h1v1h-1v1h-1v-1h-1v-1h1zM365 206h1v1h1v1h-1v1h-1v-1h-1v-1h1zM365 207h1v1h1v1h-1v1h-1v-1h-1v-1h1zM365 208h1v1h1v1h-1v1h-1v-1h-1v-1h1zM365 209h1v1h1v1h-1v1h-1v-1h-1v-1h1zM365 210h1v1h1v1h-1v1h-1v-1h-1v-1h1zM365 212h1v1h1v1h-1v1h-1v-1h-1v-1h1zM365 216h1v1h1v1h-1v1h-1v-1h-1v-1h1zM365 217h1v1h1v1h-1v1h-1v-1h-1v-1h1zM365 218h1v1h1v1h-1v1h-1v-1h-1v-1h1zM365 219h1v1h1v1h-1v1h-1v-1h-1v-1h1zM365 221h1v1h1v1h-1v1h-1v-1h-1v-1h1zM365 222h1v1h1v1h-1v1h-1v-1h-1v-1h1zM365 228h1v1h1v1h-1v1h-1v-1h-1v-1h1zM365 229h1v1h1v1h-1v1h-1v-1h-1v-1h1zM365 233h1v1h1v1h-1v1h-1v-1h-1v-1h1zM365 235h1v1h1v1h-1v1h-1v-1h-1v-1h1zM365 237h1v1h1v1h-1v1h-1v-1h-1v-1h1zM365 240h1v1h1v1h-1v1h-1v-1h-1v-1h1zM365 241h1v1h1v1h-1v1h-1v-1h-1v-1h1zM365 243h1v1h1v1h-1v1h-1v-1h-1v-1h1zM365 244h1v1h1v1h-1v1h-1v-1h-1v-1h1zM365 245h1v1h1v1h-1v1h-1v-1h-1v-1h1zM365 247h1v1h1v1h-1v1h-1v-1h-1v-1h1zM365 250h1v1h1v1h-1v1h-1v-1h-1v-1h1zM365 251h1v1h1v1h-1v1h-1v-1h-1v-1h1zM365 252h1v1h1v1h-1v1h-1v-1h-1v-1h1zM365 254h1v1h1v1h-1v1h-1v-1h-1v-1h1zM365 256h1v1h1v1h-1v1h-1v-1h-1v-1h1zM365 261h1v1h1v1h-1v1h-1v-1h-1v-1h1zM365 263h1v1h1v1h-1v1h-1v-1h-1v-1h1zM365 264h1v1h1v1h-1v1h-1v-1h-1v-1h1zM365 265h1v1h1v1h-1v1h-1v-1h-1v-1h1zM365 266h1v1h1v1h-1v1h-1v-1h-1v-1h1zM365 267h1v1h1v1h-1v1h-1v-1h-1v-1h1zM365 268h1v1h1v1h-1v1h-1v-1h-1v-1h1zM365 269h1v1h1v1h-1v1h-1v-1h-1v-1h1zM365 270h1v1h1v1h-1v1h-1v-1h-1v-1h1zM365 272h1v1h1v1h-1v1h-1v-1h-1v-1h1zM365 280h1v1h1v1h-1v1h-1v-1h-1v-1h1zM365 285h1v1h1v1h-1v1h-1v-1h-1v-1h1zM365 288h1v1h1v1h-1v1h-1v-1h-1v-1h1zM365 289h1v1h1v1h-1v1h-1v-1h-1v-1h1zM365 290h1v1h1v1h-1v1h-1v-1h-1v-1h1zM365 291h1v1h1v1h-1v1h-1v-1h-1v-1h1zM365 293h1v1h1v1h-1v1h-1v-1h-1v-1h1zM365 297h1v1h1v1h-1v1h-1v-1h-1v-1h1zM365 302h1v1h1v1h-1v1h-1v-1h-1v-1h1zM366 171h1v1h1v1h-1v1h-1v-1h-1v-1h1zM366 172h1v1h1v1h-1v1h-1v-1h-1v-1h1zM366 175h1v1h1v1h-1v1h-1v-1h-1v-1h1zM366 182h1v1h1v1h-1v1h-1v-1h-1v-1h1zM366 183h1v1h1v1h-1v1h-1v-1h-1v-1h1zM366 189h1v1h1v1h-1v1h-1v-1h-1v-1h1zM366 192h1v1h1v1h-1v1h-1v-1h-1v-1h1zM366 199h1v1h1v1h-1v1h-1v-1h-1v-1h1zM366 200h1v1h1v1h-1v1h-1v-1h-1v-1h1zM366 207h1v1h1v1h-1v1h-1v-1h-1v-1h1zM366 208h1v1h1v1h-1v1h-1v-1h-1v-1h1zM366 211h1v1h1v1h-1v1h-1v-1h-1v-1h1zM366 216h1v1h1v1h-1v1h-1v-1h-1v-1h1zM366 217h1v1h1v1h-1v1h-1v-1h-1v-1h1zM366 219h1v1h1v1h-1v1h-1v-1h-1v-1h1zM366 220h1v1h1v1h-1v1h-1v-1h-1v-1h1zM366 221h1v1h1v1h-1v1h-1v-1h-1v-1h1zM366 222h1v1h1v1h-1v1h-1v-1h-1v-1h1zM366 225h1v1h1v1h-1v1h-1v-1h-1v-1h1zM366 226h1v1h1v1h-1v1h-1v-1h-1v-1h1zM366 227h1v1h1v1h-1v1h-1v-1h-1v-1h1zM366 230h1v1h1v1h-1v1h-1v-1h-1v-1h1zM366 236h1v1h1v1h-1v1h-1v-1h-1v-1h1zM366 238h1v1h1v1h-1v1h-1v-1h-1v-1h1zM366 239h1v1h1v1h-1v1h-1v-1h-1v-1h1zM366 241h1v1h1v1h-1v1h-1v-1h-1v-1h1zM366 242h1v1h1v1h-1v1h-1v-1h-1v-1h1zM366 245h1v1h1v1h-1v1h-1v-1h-1v-1h1zM366 246h1v1h1v1h-1v1h-1v-1h-1v-1h1zM366 247h1v1h1v1h-1v1h-1v-1h-1v-1h1zM366 248h1v1h1v1h-1v1h-1v-1h-1v-1h1zM366 250h1v1h1v1h-1v1h-1v-1h-1v-1h1zM366 251h1v1h1v1h-1v1h-1v-1h-1v-1h1zM366 252h1v1h1v1h-1v1h-1v-1h-1v-1h1zM366 257h1v1h1v1h-1v1h-1v-1h-1v-1h1zM366 258h1v1h1v1h-1v1h-1v-1h-1v-1h1zM366 262h1v1h1v1h-1v1h-1v-1h-1v-1h1zM366 265h1v1h1v1h-1v1h-1v-1h-1v-1h1zM366 269h1v1h1v1h-1v1h-1v-1h-1v-1h1zM367 169h1v1h1v1h-1v1h-1v-1h-1v-1h1zM367 177h1v1h1v1h-1v1h-1v-1h-1v-1h1zM367 185h1v1h1v1h-1v1h-1v-1h-1v-1h1zM367 189h1v1h1v1h-1v1h-1v-1h-1v-1h1zM367 192h1v1h1v1h-1v1h-1v-1h-1v-1h1zM367 194h1v1h1v1h-1v1h-1v-1h-1v-1h1zM367 196h1v1h1v1h-1v1h-1v-1h-1v-1h1zM367 198h1v1h1v1h-1v1h-1v-1h-1v-1h1zM367 200h1v1h1v1h-1v1h-1v-1h-1v-1h1zM367 201h1v1h1v1h-1v1h-1v-1h-1v-1h1zM367 206h1v1h1v1h-1v1h-1v-1h-1v-1h1zM367 207h1v1h1v1h-1v1h-1v-1h-1v-1h1zM367 209h1v1h1v1h-1v1h-1v-1h-1v-1h1zM367 212h1v1h1v1h-1v1h-1v-1h-1v-1h1zM367 214h1v1h1v1h-1v1h-1v-1h-1v-1h1zM367 219h1v1h1v1h-1v1h-1v-1h-1v-1h1zM367 221h1v1h1v1h-1v1h-1v-1h-1v-1h1zM367 224h1v1h1v1h-1v1h-1v-1h-1v-1h1zM367 226h1v1h1v1h-1v1h-1v-1h-1v-1h1zM367 228h1v1h1v1h-1v1h-1v-1h-1v-1h1zM367 231h1v1h1v1h-1v1h-1v-1h-1v-1h1zM367 232h1v1h1v1h-1v1h-1v-1h-1v-1h1zM367 233h1v1h1v1h-1v1h-1v-1h-1v-1h1zM367 234h1v1h1v1h-1v1h-1v-1h-1v-1h1zM367 236h1v1h1v1h-1v1h-1v-1h-1v-1h1zM367 238h1v1h1v1h-1v1h-1v-1h-1v-1h1zM367 240h1v1h1v1h-1v1h-1v-1h-1v-1h1zM367 242h1v1h1v1h-1v1h-1v-1h-1v-1h1zM367 243h1v1h1v1h-1v1h-1v-1h-1v-1h1zM367 244h1v1h1v1h-1v1h-1v-1h-1v-1h1zM367 245h1v1h1v1h-1v1h-1v-1h-1v-1h1zM367 249h1v1h1v1h-1v1h-1v-1h-1v-1h1zM367 250h1v1h1v1h-1v1h-1v-1h-1v-1h1zM367 252h1v1h1v1h-1v1h-1v-1h-1v-1h1zM367 255h1v1h1v1h-1v1h-1v-1h-1v-1h1zM367 256h1v1h1v1h-1v1h-1v-1h-1v-1h1zM367 260h1v1h1v1h-1v1h-1v-1h-1v-1h1zM367 261h1v1h1v1h-1v1h-1v-1h-1v-1h1zM367 263h1v1h1v1h-1v1h-1v-1h-1v-1h1zM367 266h1v1h1v1h-1v1h-1v-1h-1v-1h1zM368 171h1v1h1v1h-1v1h-1v-1h-1v-1h1zM368 173h1v1h1v1h-1v1h-1v-1h-1v-1h1zM368 180h1v1h1v1h-1v1h-1v-1h-1v-1h1zM368 181h1v1h1v1h-1v1h-1v-1h-1v-1h1zM368 183h1v1h1v1h-1v1h-1v-1h-1v-1h1zM368 188h1v1h1v1h-1v1h-1v-1h-1v-1h1zM368 193h1v1h1v1h-1v1h-1v-1h-1v-1h1zM368 195h1v1h1v1h-1v1h-1v-1h-1v-1h1zM368 199h1v1h1v1h-1v1h-1v-1h-1v-1h1zM368 202h1v1h1v1h-1v1h-1v-1h-1v-1h1zM368 204h1v1h1v1h-1v1h-1v-1h-1v-1h1zM368 205h1v1h1v1h-1v1h-1v-1h-1v-1h1zM368 207h1v1h1v1h-1v1h-1v-1h-1v-1h1zM368 208h1v1h1v1h-1v1h-1v-1h-1v-1h1zM368 213h1v1h1v1h-1v1h-1v-1h-1v-1h1zM368 214h1v1h1v1h-1v1h-1v-1h-1v-1h1zM368 220h1v1h1v1h-1v1h-1v-1h-1v-1h1zM368 221h1v1h1v1h-1v1h-1v-1h-1v-1h1zM368 223h1v1h1v1h-1v1h-1v-1h-1v-1h1zM368 224h1v1h1v1h-1v1h-1v-1h-1v-1h1zM368 225h1v1h1v1h-1v1h-1v-1h-1v-1h1zM368 227h1v1h1v1h-1v1h-1v-1h-1v-1h1zM368 228h1v1h1v1h-1v1h-1v-1h-1v-1h1zM368 230h1v1h1v1h-1v1h-1v-1h-1v-1h1zM368 231h1v1h1v1h-1v1h-1v-1h-1v-1h1zM368 233h1v1h1v1h-1v1h-1v-1h-1v-1h1zM368 234h1v1h1v1h-1v1h-1v-1h-1v-1h1zM368 235h1v1h1v1h-1v1h-1v-1h-1v-1h1zM368 236h1v1h1v1h-1v1h-1v-1h-1v-1h1zM368 237h1v1h1v1h-1v1h-1v-1h-1v-1h1zM368 240h1v1h1v1h-1v1h-1v-1h-1v-1h1zM368 241h1v1h1v1h-1v1h-1v-1h-1v-1h1zM368 244h1v1h1v1h-1v1h-1v-1h-1v-1h1zM368 247h1v1h1v1h-1v1h-1v-1h-1v-1h1zM368 248h1v1h1v1h-1v1h-1v-1h-1v-1h1zM368 249h1v1h1v1h-1v1h-1v-1h-1v-1h1zM368 251h1v1h1v1h-1v1h-1v-1h-1v-1h1zM368 252h1v1h1v1h-1v1h-1v-1h-1v-1h1zM368 253h1v1h1v1h-1v1h-1v-1h-1v-1h1zM368 255h1v1h1v1h-1v1h-1v-1h-1v-1h1zM368 257h1v1h1v1h-1v1h-1v-1h-1v-1h1zM368 260h1v1h1v1h-1v1h-1v-1h-1v-1h1zM368 262h1v1h1v1h-1v1h-1v-1h-1v-1h1zM368 264h1v1h1v1h-1v1h-1v-1h-1v-1h1zM368 266h1v1h1v1h-1v1h-1v-1h-1v-1h1zM369 171h1v1h1v1h-1v1h-1v-1h-1v-1h1zM369 179h1v1h1v1h-1v1h-1v-1h-1v-1h1zM369 180h1v1h1v1h-1v1h-1v-1h-1v-1h1zM369 186h1v1h1v1h-1v1h-1v-1h-1v-1h1zM369 192h1v1h1v1h-1v1h-1v-1h-1v-1h1zM369 194h1v1h1v1h-1v1h-1v-1h-1v-1h1zM369 197h1v1h1v1h-1v1h-1v-1h-1v-1h1zM369 198h1v1h1v1h-1v1h-1v-1h-1v-1h1zM369 200h1v1h1v1h-1v1h-1v-1h-1v-1h1zM369 205h1v1h1v1h-1v1h-1v-1h-1v-1h1zM369 206h1v1h1v1h-1v1h-1v-1h-1v-1h1zM369 207h1v1h1v1h-1v1h-1v-1h-1v-1h1zM369 209h1v1h1v1h-1v1h-1v-1h-1v-1h1zM369 210h1v1h1v1h-1v1h-1v-1h-1v-1h1zM369 217h1v1h1v1h-1v1h-1v-1h-1v-1h1zM369 218h1v1h1v1h-1v1h-1v-1h-1v-1h1zM369 219h1v1h1v1h-1v1h-1v-1h-1v-1h1zM369 223h1v1h1v1h-1v1h-1v-1h-1v-1h1zM369 227h1v1h1v1h-1v1h-1v-1h-1v-1h1zM369 228h1v1h1v1h-1v1h-1v-1h-1v-1h1zM369 230h1v1h1v1h-1v1h-1v-1h-1v-1h1zM369 234h1v1h1v1h-1v1h-1v-1h-1v-1h1zM369 235h1v1h1v1h-1v1h-1v-1h-1v-1h1zM369 237h1v1h1v1h-1v1h-1v-1h-1v-1h1zM369 238h1v1h1v1h-1v1h-1v-1h-1v-1h1zM369 240h1v1h1v1h-1v1h-1v-1h-1v-1h1zM369 241h1v1h1v1h-1v1h-1v-1h-1v-1h1zM369 243h1v1h1v1h-1v1h-1v-1h-1v-1h1zM369 244h1v1h1v1h-1v1h-1v-1h-1v-1h1zM369 247h1v1h1v1h-1v1h-1v-1h-1v-1h1zM369 248h1v1h1v1h-1v1h-1v-1h-1v-1h1zM369 249h1v1h1v1h-1v1h-1v-1h-1v-1h1zM369 250h1v1h1v1h-1v1h-1v-1h-1v-1h1zM369 251h1v1h1v1h-1v1h-1v-1h-1v-1h1zM369 254h1v1h1v1h-1v1h-1v-1h-1v-1h1zM369 256h1v1h1v1h-1v1h-1v-1h-1v-1h1zM369 258h1v1h1v1h-1v1h-1v-1h-1v-1h1zM369 259h1v1h1v1h-1v1h-1v-1h-1v-1h1zM369 260h1v1h1v1h-1v1h-1v-1h-1v-1h1zM369 261h1v1h1v1h-1v1h-1v-1h-1v-1h1zM369 262h1v1h1v1h-1v1h-1v-1h-1v-1h1zM369 263h1v1h1v1h-1v1h-1v-1h-1v-1h1zM369 264h1v1h1v1h-1v1h-1v-1h-1v-1h1zM369 268h1v1h1v1h-1v1h-1v-1h-1v-1h1zM370 195h1v1h1v1h-1v1h-1v-1h-1v-1h1zM370 196h1v1h1v1h-1v1h-1v-1h-1v-1h1zM370 197h1v1h1v1h-1v1h-1v-1h-1v-1h1zM370 198h1v1h1v1h-1v1h-1v-1h-1v-1h1zM370 199h1v1h1v1h-1v1h-1v-1h-1v-1h1zM370 200h1v1h1v1h-1v1h-1v-1h-1v-1h1zM370 204h1v1h1v1h-1v1h-1v-1h-1v-1h1zM370 205h1v1h1v1h-1v1h-1v-1h-1v-1h1zM370 206h1v1h1v1h-1v1h-1v-1h-1v-1h1zM370 207h1v1h1v1h-1v1h-1v-1h-1v-1h1zM370 208h1v1h1v1h-1v1h-1v-1h-1v-1h1zM370 210h1v1h1v1h-1v1h-1v-1h-1v-1h1zM370 211h1v1h1v1h-1v1h-1v-1h-1v-1h1zM370 212h1v1h1v1h-1v1h-1v-1h-1v-1h1zM370 213h1v1h1v1h-1v1h-1v-1h-1v-1h1zM370 215h1v1h1v1h-1v1h-1v-1h-1v-1h1zM370 216h1v1h1v1h-1v1h-1v-1h-1v-1h1zM370 217h1v1h1v1h-1v1h-1v-1h-1v-1h1zM370 218h1v1h1v1h-1v1h-1v-1h-1v-1h1zM370 219h1v1h1v1h-1v1h-1v-1h-1v-1h1zM370 220h1v1h1v1h-1v1h-1v-1h-1v-1h1zM370 221h1v1h1v1h-1v1h-1v-1h-1v-1h1zM370 222h1v1h1v1h-1v1h-1v-1h-1v-1h1zM370 223h1v1h1v1h-1v1h-1v-1h-1v-1h1zM370 224h1v1h1v1h-1v1h-1v-1h-1v-1h1zM370 225h1v1h1v1h-1v1h-1v-1h-1v-1h1zM370 226h1v1h1v1h-1v1h-1v-1h-1v-1h1zM370 227h1v1h1v1h-1v1h-1v-1h-1v-1h1zM370 228h1v1h1v1h-1v1h-1v-1h-1v-1h1zM370 229h1v1h1v1h-1v1h-1v-1h-1v-1h1zM370 230h1v1h1v1h-1v1h-1v-1h-1v-1h1zM370 231h1v1h1v1h-1v1h-1v-1h-1v-1h1zM370 232h1v1h1v1h-1v1h-1v-1h-1v-1h1zM370 233h1v1h1v1h-1v1h-1v-1h-1v-1h1zM370 234h1v1h1v1h-1v1h-1v-1h-1v-1h1zM370 235h1v1h1v1h-1v1h-1v-1h-1v-1h1zM370 236h1v1h1v1h-1v1h-1v-1h-1v-1h1zM370 237h1v1h1v1h-1v1h-1v-1h-1v-1h1zM370 238h1v1h1v1h-1v1h-1v-1h-1v-1h1zM370 239h1v1h1v1h-1v1h-1v-1h-1v-1h1zM370 240h1v1h1v1h-1v1h-1v-1h-1v-1h1zM370 241h1v1h1v1h-1v1h-1v-1h-1v-1h1zM370 242h1v1h1v1h-1v1h-1v-1h-1v-1h1zM370 243h1v1h1v1h-1v1h-1v-1h-1v-1h1zM370 244h1v1h1v1h-1v1h-1v-1h-1v-1h1zM370 245h1v1h1v1h-1v1h-1v-1h-1v-1h1zM370 246h1v1h1v1h-1v1h-1v-1h-1v-1h1zM370 247h1v1h1v1h-1v1h-1v-1h-1v-1h1zM370 248h1v1h1v1h-1v1h-1v-1h-1v-1h1zM370 249h1v1h1v1h-1v1h-1v-1h-1v-1h1zM370 250h1v1h1v1h-1v1h-1v-1h-1v-1h1zM370 251h1v1h1v1h-1v1h-1v-1h-1v-1h1zM370 252h1v1h1v1h-1v1h-1v-1h-1v-1h1zM370 253h1v1h1v1h-1v1h-1v-1h-1v-1h1zM370 254h1v1h1v1h-1v1h-1v-1h-1v-1h1zM370 255h1v1h1v1h-1v1h-1v-1h-1v-1h1zM370 256h1v1h1v1h-1v1h-1v-1h-1v-1h1zM370 257h1v1h1v1h-1v1h-1v-1h-1v-1h1zM370 258h1v1h1v1h-1v1h-1v-1h-1v-1h1zM370 259h1v1h1v1h-1v1h-1v-1h-1v-1h1zM370 260h1v1h1v1h-1v1h-1v-1h-1v-1h1zM370 261h1v1h1v1h-1v1h-1v-1h-1v-1h1zM370 263h1v1h1v1h-1v1h-1v-1h-1v-1h1zM370 264h1v1h1v1h-1v1h-1v-1h-1v-1h1zM370 265h1v1h1v1h-1v1h-1v-1h-1v-1h1zM370 266h1v1h1v1h-1v1h-1v-1h-1v-1h1zM370 267h1v1h1v1h-1v1h-1v-1h-1v-1h1zM370 270h1v1h1v1h-1v1h-1v-1h-1v-1h1zM370 271h1v1h1v1h-1v1h-1v-1h-1v-1h1zM370 272h1v1h1v1h-1v1h-1v-1h-1v-1h1zM370 273h1v1h1v1h-1v1h-1v-1h-1v-1h1zM370 274h1v1h1v1h-1v1h-1v-1h-1v-1h1zM370 275h1v1h1v1h-1v1h-1v-1h-1v-1h1zM370 276h1v1h1v1h-1v1h-1v-1h-1v-1h1zM370 277h1v1h1v1h-1v1h-1v-1h-1v-1h1zM370 278h1v1h1v1h-1v1h-1v-1h-1v-1h1zM370 279h1v1h1v1h-1v1h-1v-1h-1v-1h1zM370 280h1v1h1v1h-1v1h-1v-1h-1v-1h1zM370 281h1v1h1v1h-1v1h-1v-1h-1v-1h1zM370 282h1v1h1v1h-1v1h-1v-1h-1v-1h1zM370 283h1v1h1v1h-1v1h-1v-1h-1v-1h1zM370 284h1v1h1v1h-1v1h-1v-1h-1v-1h1zM370 285h1v1h1v1h-1v1h-1v-1h-1v-1h1zM370 286h1v1h1v1h-1v1h-1v-1h-1v-1h1zM370 287h1v1h1v1h-1v1h-1v-1h-1v-1h1zM370 288h1v1h1v1h-1v1h-1v-1h-1v-1h1zM370 289h1v1h1v1h-1v1h-1v-1h-1v-1h1zM370 290h1v1h1v1h-1v1h-1v-1h-1v-1h1zM370 292h1v1h1v1h-1v1h-1v-1h-1v-1h1zM370 293h1v1h1v1h-1v1h-1v-1h-1v-1h1zM370 294h1v1h1v1h-1v1h-1v-1h-1v-1h1zM370 295h1v1h1v1h-1v1h-1v-1h-1v-1h1zM370 296h1v1h1v1h-1v1h-1v-1h-1v-1h1zM370 297h1v1h1v1h-1v1h-1v-1h-1v-1h1zM370 300h1v1h1v1h-1v1h-1v-1h-1v-1h1zM370 303h1v1h1v1h-1v1h-1v-1h-1v-1h1zM370 304h1v1h1v1h-1v1h-1v-1h-1v-1h1zM370 305h1v1h1v1h-1v1h-1v-1h-1v-1h1zM370 306h1v1h1v1h-1v1h-1v-1h-1v-1h1zM370 307h1v1h1v1h-1v1h-1v-1h-1v-1h1zM370 308h1v1h1v1h-1v1h-1v-1h-1v-1h1zM370 309h1v1h1v1h-1v1h-1v-1h-1v-1h1zM370 310h1v1h1v1h-1v1h-1v-1h-1v-1h1zM370 311h1v1h1v1h-1v1h-1v-1h-1v-1h1zM370 314h1v1h1v1h-1v1h-1v-1h-1v-1h1zM370 315h1v1h1v1h-1v1h-1v-1h-1v-1h1zM370 316h1v1h1v1h-1v1h-1v-1h-1v-1h1zM370 317h1v1h1v1h-1v1h-1v-1h-1v-1h1zM370 322h1v1h1v1h-1v1h-1v-1h-1v-1h1zM370 323h1v1h1v1h-1v1h-1v-1h-1v-1h1zM370 324h1v1h1v1h-1v1h-1v-1h-1v-1h1zM370 325h1v1h1v1h-1v1h-1v-1h-1v-1h1zM370 326h1v1h1v1h-1v1h-1v-1h-1v-1h1zM370 327h1v1h1v1h-1v1h-1v-1h-1v-1h1zM370 328h1v1h1v1h-1v1h-1v-1h-1v-1h1zM370 329h1v1h1v1h-1v1h-1v-1h-1v-1h1zM370 330h1v1h1v1h-1v1h-1v-1h-1v-1h1zM370 331h1v1h1v1h-1v1h-1v-1h-1v-1h1zM370 332h1v1h1v1h-1v1h-1v-1h-1v-1h1zM370 333h1v1h1v1h-1v1h-1v-1h-1v-1h1zM370 334h1v1h1v1h-1v1h-1v-1h-1v-1h1zM370 335h1v1h1v1h-1v1h-1v-1h-1v-1h1zM371 169h1v1h1v1h-1v1h-1v-1h-1v-1h1zM371 176h1v1h1v1h-1v1h-1v-1h-1v-1h1zM371 189h1v1h1v1h-1v1h-1v-1h-1v-1h1zM371 190h1v1h1v1h-1v1h-1v-1h-1v-1h1zM371 197h1v1h1v1h-1v1h-1v-1h-1v-1h1zM371 198h1v1h1v1h-1v1h-1v-1h-1v-1h1zM371 199h1v1h1v1h-1v1h-1v-1h-1v-1h1zM371 204h1v1h1v1h-1v1h-1v-1h-1v-1h1zM371 208h1v1h1v1h-1v1h-1v-1h-1v-1h1zM371 210h1v1h1v1h-1v1h-1v-1h-1v-1h1zM371 211h1v1h1v1h-1v1h-1v-1h-1v-1h1zM371 215h1v1h1v1h-1v1h-1v-1h-1v-1h1zM371 217h1v1h1v1h-1v1h-1v-1h-1v-1h1zM371 218h1v1h1v1h-1v1h-1v-1h-1v-1h1zM371 220h1v1h1v1h-1v1h-1v-1h-1v-1h1zM371 221h1v1h1v1h-1v1h-1v-1h-1v-1h1zM371 222h1v1h1v1h-1v1h-1v-1h-1v-1h1zM371 223h1v1h1v1h-1v1h-1v-1h-1v-1h1zM371 227h1v1h1v1h-1v1h-1v-1h-1v-1h1zM371 231h1v1h1v1h-1v1h-1v-1h-1v-1h1zM371 236h1v1h1v1h-1v1h-1v-1h-1v-1h1zM371 237h1v1h1v1h-1v1h-1v-1h-1v-1h1zM371 239h1v1h1v1h-1v1h-1v-1h-1v-1h1zM371 241h1v1h1v1h-1v1h-1v-1h-1v-1h1zM371 242h1v1h1v1h-1v1h-1v-1h-1v-1h1zM371 244h1v1h1v1h-1v1h-1v-1h-1v-1h1zM371 245h1v1h1v1h-1v1h-1v-1h-1v-1h1zM371 247h1v1h1v1h-1v1h-1v-1h-1v-1h1zM371 250h1v1h1v1h-1v1h-1v-1h-1v-1h1zM371 252h1v1h1v1h-1v1h-1v-1h-1v-1h1zM371 255h1v1h1v1h-1v1h-1v-1h-1v-1h1zM371 257h1v1h1v1h-1v1h-1v-1h-1v-1h1zM371 258h1v1h1v1h-1v1h-1v-1h-1v-1h1zM371 259h1v1h1v1h-1v1h-1v-1h-1v-1h1zM371 261h1v1h1v1h-1v1h-1v-1h-1v-1h1zM371 262h1v1h1v1h-1v1h-1v-1h-1v-1h1zM371 264h1v1h1v1h-1v1h-1v-1h-1v-1h1zM371 265h1v1h1v1h-1v1h-1v-1h-1v-1h1zM371 267h1v1h1v1h-1v1h-1v-1h-1v-1h1zM371 270h1v1h1v1h-1v1h-1v-1h-1v-1h1zM371 271h1v1h1v1h-1v1h-1v-1h-1v-1h1zM372 161h1v1h1v1h-1v1h-1v-1h-1v-1h1zM372 171h1v1h1v1h-1v1h-1v-1h-1v-1h1zM372 178h1v1h1v1h-1v1h-1v-1h-1v-1h1zM372 181h1v1h1v1h-1v1h-1v-1h-1v-1h1zM372 188h1v1h1v1h-1v1h-1v-1h-1v-1h1zM372 199h1v1h1v1h-1v1h-1v-1h-1v-1h1zM372 202h1v1h1v1h-1v1h-1v-1h-1v-1h1zM372 203h1v1h1v1h-1v1h-1v-1h-1v-1h1zM372 204h1v1h1v1h-1v1h-1v-1h-1v-1h1zM372 205h1v1h1v1h-1v1h-1v-1h-1v-1h1zM372 206h1v1h1v1h-1v1h-1v-1h-1v-1h1zM372 207h1v1h1v1h-1v1h-1v-1h-1v-1h1zM372 208h1v1h1v1h-1v1h-1v-1h-1v-1h1zM372 209h1v1h1v1h-1v1h-1v-1h-1v-1h1zM372 212h1v1h1v1h-1v1h-1v-1h-1v-1h1zM372 213h1v1h1v1h-1v1h-1v-1h-1v-1h1zM372 214h1v1h1v1h-1v1h-1v-1h-1v-1h1zM372 218h1v1h1v1h-1v1h-1v-1h-1v-1h1zM372 220h1v1h1v1h-1v1h-1v-1h-1v-1h1zM372 222h1v1h1v1h-1v1h-1v-1h-1v-1h1zM372 224h1v1h1v1h-1v1h-1v-1h-1v-1h1zM372 228h1v1h1v1h-1v1h-1v-1h-1v-1h1zM372 229h1v1h1v1h-1v1h-1v-1h-1v-1h1zM372 231h1v1h1v1h-1v1h-1v-1h-1v-1h1zM372 233h1v1h1v1h-1v1h-1v-1h-1v-1h1zM372 235h1v1h1v1h-1v1h-1v-1h-1v-1h1zM372 236h1v1h1v1h-1v1h-1v-1h-1v-1h1zM372 238h1v1h1v1h-1v1h-1v-1h-1v-1h1zM372 240h1v1h1v1h-1v1h-1v-1h-1v-1h1zM372 242h1v1h1v1h-1v1h-1v-1h-1v-1h1zM372 243h1v1h1v1h-1v1h-1v-1h-1v-1h1zM372 244h1v1h1v1h-1v1h-1v-1h-1v-1h1zM372 246h1v1h1v1h-1v1h-1v-1h-1v-1h1zM372 248h1v1h1v1h-1v1h-1v-1h-1v-1h1zM372 250h1v1h1v1h-1v1h-1v-1h-1v-1h1zM372 251h1v1h1v1h-1v1h-1v-1h-1v-1h1zM372 253h1v1h1v1h-1v1h-1v-1h-1v-1h1zM372 254h1v1h1v1h-1v1h-1v-1h-1v-1h1zM372 256h1v1h1v1h-1v1h-1v-1h-1v-1h1zM372 257h1v1h1v1h-1v1h-1v-1h-1v-1h1zM372 258h1v1h1v1h-1v1h-1v-1h-1v-1h1zM372 264h1v1h1v1h-1v1h-1v-1h-1v-1h1zM372 265h1v1h1v1h-1v1h-1v-1h-1v-1h1zM372 267h1v1h1v1h-1v1h-1v-1h-1v-1h1zM372 268h1v1h1v1h-1v1h-1v-1h-1v-1h1zM372 269h1v1h1v1h-1v1h-1v-1h-1v-1h1zM372 271h1v1h1v1h-1v1h-1v-1h-1v-1h1zM372 281h1v1h1v1h-1v1h-1v-1h-1v-1h1zM372 282h1v1h1v1h-1v1h-1v-1h-1v-1h1zM373 171h1v1h1v1h-1v1h-1v-1h-1v-1h1zM373 172h1v1h1v1h-1v1h-1v-1h-1v-1h1zM373 184h1v1h1v1h-1v1h-1v-1h-1v-1h1zM373 185h1v1h1v1h-1v1h-1v-1h-1v-1h1zM373 194h1v1h1v1h-1v1h-1v-1h-1v-1h1zM373 196h1v1h1v1h-1v1h-1v-1h-1v-1h1zM373 197h1v1h1v1h-1v1h-1v-1h-1v-1h1zM373 205h1v1h1v1h-1v1h-1v-1h-1v-1h1zM373 216h1v1h1v1h-1v1h-1v-1h-1v-1h1zM373 217h1v1h1v1h-1v1h-1v-1h-1v-1h1zM373 219h1v1h1v1h-1v1h-1v-1h-1v-1h1zM373 220h1v1h1v1h-1v1h-1v-1h-1v-1h1zM373 222h1v1h1v1h-1v1h-1v-1h-1v-1h1zM373 224h1v1h1v1h-1v1h-1v-1h-1v-1h1zM373 225h1v1h1v1h-1v1h-1v-1h-1v-1h1zM373 227h1v1h1v1h-1v1h-1v-1h-1v-1h1zM373 228h1v1h1v1h-1v1h-1v-1h-1v-1h1zM373 231h1v1h1v1h-1v1h-1v-1h-1v-1h1zM373 232h1v1h1v1h-1v1h-1v-1h-1v-1h1zM373 233h1v1h1v1h-1v1h-1v-1h-1v-1h1zM373 234h1v1h1v1h-1v1h-1v-1h-1v-1h1zM373 236h1v1h1v1h-1v1h-1v-1h-1v-1h1zM373 237h1v1h1v1h-1v1h-1v-1h-1v-1h1zM373 238h1v1h1v1h-1v1h-1v-1h-1v-1h1zM373 239h1v1h1v1h-1v1h-1v-1h-1v-1h1zM373 241h1v1h1v1h-1v1h-1v-1h-1v-1h1zM373 243h1v1h1v1h-1v1h-1v-1h-1v-1h1zM373 244h1v1h1v1h-1v1h-1v-1h-1v-1h1zM373 246h1v1h1v1h-1v1h-1v-1h-1v-1h1zM373 250h1v1h1v1h-1v1h-1v-1h-1v-1h1zM373 252h1v1h1v1h-1v1h-1v-1h-1v-1h1zM373 253h1v1h1v1h-1v1h-1v-1h-1v-1h1zM373 257h1v1h1v1h-1v1h-1v-1h-1v-1h1zM373 258h1v1h1v1h-1v1h-1v-1h-1v-1h1zM373 260h1v1h1v1h-1v1h-1v-1h-1v-1h1zM373 261h1v1h1v1h-1v1h-1v-1h-1v-1h1zM373 264h1v1h1v1h-1v1h-1v-1h-1v-1h1zM373 265h1v1h1v1h-1v1h-1v-1h-1v-1h1zM373 269h1v1h1v1h-1v1h-1v-1h-1v-1h1zM373 270h1v1h1v1h-1v1h-1v-1h-1v-1h1zM373 272h1v1h1v1h-1v1h-1v-1h-1v-1h1zM373 278h1v1h1v1h-1v1h-1v-1h-1v-1h1zM373 287h1v1h1v1h-1v1h-1v-1h-1v-1h1zM373 290h1v1h1v1h-1v1h-1v-1h-1v-1h1zM373 292h1v1h1v1h-1v1h-1v-1h-1v-1h1zM373 293h1v1h1v1h-1v1h-1v-1h-1v-1h1zM373 294h1v1h1v1h-1v1h-1v-1h-1v-1h1zM373 295h1v1h1v1h-1v1h-1v-1h-1v-1h1zM374 174h1v1h1v1h-1v1h-1v-1h-1v-1h1zM374 183h1v1h1v1h-1v1h-1v-1h-1v-1h1zM374 184h1v1h1v1h-1v1h-1v-1h-1v-1h1zM374 190h1v1h1v1h-1v1h-1v-1h-1v-1h1zM374 204h1v1h1v1h-1v1h-1v-1h-1v-1h1zM374 207h1v1h1v1h-1v1h-1v-1h-1v-1h1zM374 212h1v1h1v1h-1v1h-1v-1h-1v-1h1zM374 215h1v1h1v1h-1v1h-1v-1h-1v-1h1zM374 218h1v1h1v1h-1v1h-1v-1h-1v-1h1zM374 224h1v1h1v1h-1v1h-1v-1h-1v-1h1zM374 225h1v1h1v1h-1v1h-1v-1h-1v-1h1zM374 229h1v1h1v1h-1v1h-1v-1h-1v-1h1zM374 230h1v1h1v1h-1v1h-1v-1h-1v-1h1zM374 231h1v1h1v1h-1v1h-1v-1h-1v-1h1zM374 235h1v1h1v1h-1v1h-1v-1h-1v-1h1zM374 237h1v1h1v1h-1v1h-1v-1h-1v-1h1zM374 249h1v1h1v1h-1v1h-1v-1h-1v-1h1zM374 251h1v1h1v1h-1v1h-1v-1h-1v-1h1zM374 252h1v1h1v1h-1v1h-1v-1h-1v-1h1zM374 257h1v1h1v1h-1v1h-1v-1h-1v-1h1zM374 258h1v1h1v1h-1v1h-1v-1h-1v-1h1zM374 260h1v1h1v1h-1v1h-1v-1h-1v-1h1zM374 261h1v1h1v1h-1v1h-1v-1h-1v-1h1zM374 262h1v1h1v1h-1v1h-1v-1h-1v-1h1zM374 264h1v1h1v1h-1v1h-1v-1h-1v-1h1zM374 265h1v1h1v1h-1v1h-1v-1h-1v-1h1zM374 266h1v1h1v1h-1v1h-1v-1h-1v-1h1zM374 267h1v1h1v1h-1v1h-1v-1h-1v-1h1zM374 268h1v1h1v1h-1v1h-1v-1h-1v-1h1zM374 270h1v1h1v1h-1v1h-1v-1h-1v-1h1zM374 272h1v1h1v1h-1v1h-1v-1h-1v-1h1zM374 273h1v1h1v1h-1v1h-1v-1h-1v-1h1zM374 276h1v1h1v1h-1v1h-1v-1h-1v-1h1zM374 286h1v1h1v1h-1v1h-1v-1h-1v-1h1zM374 290h1v1h1v1h-1v1h-1v-1h-1v-1h1zM374 292h1v1h1v1h-1v1h-1v-1h-1v-1h1zM375 172h1v1h1v1h-1v1h-1v-1h-1v-1h1zM375 183h1v1h1v1h-1v1h-1v-1h-1v-1h1zM375 184h1v1h1v1h-1v1h-1v-1h-1v-1h1zM375 199h1v1h1v1h-1v1h-1v-1h-1v-1h1zM375 201h1v1h1v1h-1v1h-1v-1h-1v-1h1zM375 210h1v1h1v1h-1v1h-1v-1h-1v-1h1zM375 211h1v1h1v1h-1v1h-1v-1h-1v-1h1zM375 214h1v1h1v1h-1v1h-1v-1h-1v-1h1zM375 219h1v1h1v1h-1v1h-1v-1h-1v-1h1zM375 220h1v1h1v1h-1v1h-1v-1h-1v-1h1zM375 221h1v1h1v1h-1v1h-1v-1h-1v-1h1zM375 222h1v1h1v1h-1v1h-1v-1h-1v-1h1zM375 224h1v1h1v1h-1v1h-1v-1h-1v-1h1zM375 225h1v1h1v1h-1v1h-1v-1h-1v-1h1zM375 226h1v1h1v1h-1v1h-1v-1h-1v-1h1zM375 229h1v1h1v1h-1v1h-1v-1h-1v-1h1zM375 231h1v1h1v1h-1v1h-1v-1h-1v-1h1zM375 233h1v1h1v1h-1v1h-1v-1h-1v-1h1zM375 234h1v1h1v1h-1v1h-1v-1h-1v-1h1zM375 236h1v1h1v1h-1v1h-1v-1h-1v-1h1zM375 237h1v1h1v1h-1v1h-1v-1h-1v-1h1zM375 238h1v1h1v1h-1v1h-1v-1h-1v-1h1zM375 239h1v1h1v1h-1v1h-1v-1h-1v-1h1zM375 242h1v1h1v1h-1v1h-1v-1h-1v-1h1zM375 245h1v1h1v1h-1v1h-1v-1h-1v-1h1zM375 247h1v1h1v1h-1v1h-1v-1h-1v-1h1zM375 249h1v1h1v1h-1v1h-1v-1h-1v-1h1zM375 250h1v1h1v1h-1v1h-1v-1h-1v-1h1zM375 252h1v1h1v1h-1v1h-1v-1h-1v-1h1zM375 255h1v1h1v1h-1v1h-1v-1h-1v-1h1zM375 259h1v1h1v1h-1v1h-1v-1h-1v-1h1zM375 260h1v1h1v1h-1v1h-1v-1h-1v-1h1zM375 261h1v1h1v1h-1v1h-1v-1h-1v-1h1zM375 262h1v1h1v1h-1v1h-1v-1h-1v-1h1zM375 263h1v1h1v1h-1v1h-1v-1h-1v-1h1zM375 267h1v1h1v1h-1v1h-1v-1h-1v-1h1zM375 270h1v1h1v1h-1v1h-1v-1h-1v-1h1zM375 275h1v1h1v1h-1v1h-1v-1h-1v-1h1zM375 284h1v1h1v1h-1v1h-1v-1h-1v-1h1zM375 288h1v1h1v1h-1v1h-1v-1h-1v-1h1zM375 289h1v1h1v1h-1v1h-1v-1h-1v-1h1zM375 290h1v1h1v1h-1v1h-1v-1h-1v-1h1zM375 293h1v1h1v1h-1v1h-1v-1h-1v-1h1zM375 297h1v1h1v1h-1v1h-1v-1h-1v-1h1zM375 298h1v1h1v1h-1v1h-1v-1h-1v-1h1zM376 172h1v1h1v1h-1v1h-1v-1h-1v-1h1zM376 173h1v1h1v1h-1v1h-1v-1h-1v-1h1zM376 176h1v1h1v1h-1v1h-1v-1h-1v-1h1zM376 181h1v1h1v1h-1v1h-1v-1h-1v-1h1zM376 195h1v1h1v1h-1v1h-1v-1h-1v-1h1zM376 205h1v1h1v1h-1v1h-1v-1h-1v-1h1zM376 211h1v1h1v1h-1v1h-1v-1h-1v-1h1zM376 217h1v1h1v1h-1v1h-1v-1h-1v-1h1zM376 219h1v1h1v1h-1v1h-1v-1h-1v-1h1zM376 220h1v1h1v1h-1v1h-1v-1h-1v-1h1zM376 222h1v1h1v1h-1v1h-1v-1h-1v-1h1zM376 223h1v1h1v1h-1v1h-1v-1h-1v-1h1zM376 225h1v1h1v1h-1v1h-1v-1h-1v-1h1zM376 226h1v1h1v1h-1v1h-1v-1h-1v-1h1zM376 227h1v1h1v1h-1v1h-1v-1h-1v-1h1zM376 231h1v1h1v1h-1v1h-1v-1h-1v-1h1zM376 234h1v1h1v1h-1v1h-1v-1h-1v-1h1zM376 240h1v1h1v1h-1v1h-1v-1h-1v-1h1zM376 246h1v1h1v1h-1v1h-1v-1h-1v-1h1zM376 251h1v1h1v1h-1v1h-1v-1h-1v-1h1zM376 252h1v1h1v1h-1v1h-1v-1h-1v-1h1zM376 254h1v1h1v1h-1v1h-1v-1h-1v-1h1zM376 262h1v1h1v1h-1v1h-1v-1h-1v-1h1zM376 264h1v1h1v1h-1v1h-1v-1h-1v-1h1zM376 267h1v1h1v1h-1v1h-1v-1h-1v-1h1zM376 268h1v1h1v1h-1v1h-1v-1h-1v-1h1zM376 269h1v1h1v1h-1v1h-1v-1h-1v-1h1zM376 279h1v1h1v1h-1v1h-1v-1h-1v-1h1zM376 282h1v1h1v1h-1v1h-1v-1h-1v-1h1zM376 283h1v1h1v1h-1v1h-1v-1h-1v-1h1zM376 290h1v1h1v1h-1v1h-1v-1h-1v-1h1zM376 293h1v1h1v1h-1v1h-1v-1h-1v-1h1zM376 294h1v1h1v1h-1v1h-1v-1h-1v-1h1zM376 301h1v1h1v1h-1v1h-1v-1h-1v-1h1zM377 181h1v1h1v1h-1v1h-1v-1h-1v-1h1zM377 183h1v1h1v1h-1v1h-1v-1h-1v-1h1zM377 184h1v1h1v1h-1v1h-1v-1h-1v-1h1zM377 197h1v1h1v1h-1v1h-1v-1h-1v-1h1zM377 203h1v1h1v1h-1v1h-1v-1h-1v-1h1zM377 204h1v1h1v1h-1v1h-1v-1h-1v-1h1zM377 206h1v1h1v1h-1v1h-1v-1h-1v-1h1zM377 216h1v1h1v1h-1v1h-1v-1h-1v-1h1zM377 220h1v1h1v1h-1v1h-1v-1h-1v-1h1zM377 221h1v1h1v1h-1v1h-1v-1h-1v-1h1zM377 223h1v1h1v1h-1v1h-1v-1h-1v-1h1zM377 225h1v1h1v1h-1v1h-1v-1h-1v-1h1zM377 226h1v1h1v1h-1v1h-1v-1h-1v-1h1zM377 228h1v1h1v1h-1v1h-1v-1h-1v-1h1zM377 229h1v1h1v1h-1v1h-1v-1h-1v-1h1zM377 233h1v1h1v1h-1v1h-1v-1h-1v-1h1zM377 235h1v1h1v1h-1v1h-1v-1h-1v-1h1zM377 236h1v1h1v1h-1v1h-1v-1h-1v-1h1zM377 237h1v1h1v1h-1v1h-1v-1h-1v-1h1zM377 239h1v1h1v1h-1v1h-1v-1h-1v-1h1zM377 240h1v1h1v1h-1v1h-1v-1h-1v-1h1zM377 241h1v1h1v1h-1v1h-1v-1h-1v-1h1zM377 242h1v1h1v1h-1v1h-1v-1h-1v-1h1zM377 243h1v1h1v1h-1v1h-1v-1h-1v-1h1zM377 248h1v1h1v1h-1v1h-1v-1h-1v-1h1zM377 249h1v1h1v1h-1v1h-1v-1h-1v-1h1zM377 250h1v1h1v1h-1v1h-1v-1h-1v-1h1zM377 252h1v1h1v1h-1v1h-1v-1h-1v-1h1zM377 256h1v1h1v1h-1v1h-1v-1h-1v-1h1zM377 257h1v1h1v1h-1v1h-1v-1h-1v-1h1zM377 262h1v1h1v1h-1v1h-1v-1h-1v-1h1zM377 270h1v1h1v1h-1v1h-1v-1h-1v-1h1zM377 271h1v1h1v1h-1v1h-1v-1h-1v-1h1zM377 284h1v1h1v1h-1v1h-1v-1h-1v-1h1zM377 289h1v1h1v1h-1v1h-1v-1h-1v-1h1zM377 290h1v1h1v1h-1v1h-1v-1h-1v-1h1zM377 293h1v1h1v1h-1v1h-1v-1h-1v-1h1zM377 294h1v1h1v1h-1v1h-1v-1h-1v-1h1zM377 295h1v1h1v1h-1v1h-1v-1h-1v-1h1zM377 297h1v1h1v1h-1v1h-1v-1h-1v-1h1zM377 299h1v1h1v1h-1v1h-1v-1h-1v-1h1zM377 302h1v1h1v1h-1v1h-1v-1h-1v-1h1zM377 306h1v1h1v1h-1v1h-1v-1h-1v-1h1zM378 186h1v1h1v1h-1v1h-1v-1h-1v-1h1zM378 197h1v1h1v1h-1v1h-1v-1h-1v-1h1zM378 199h1v1h1v1h-1v1h-1v-1h-1v-1h1zM378 209h1v1h1v1h-1v1h-1v-1h-1v-1h1zM378 210h1v1h1v1h-1v1h-1v-1h-1v-1h1zM378 213h1v1h1v1h-1v1h-1v-1h-1v-1h1zM378 215h1v1h1v1h-1v1h-1v-1h-1v-1h1zM378 216h1v1h1v1h-1v1h-1v-1h-1v-1h1zM378 219h1v1h1v1h-1v1h-1v-1h-1v-1h1zM378 220h1v1h1v1h-1v1h-1v-1h-1v-1h1zM378 221h1v1h1v1h-1v1h-1v-1h-1v-1h1zM378 222h1v1h1v1h-1v1h-1v-1h-1v-1h1zM378 225h1v1h1v1h-1v1h-1v-1h-1v-1h1zM378 226h1v1h1v1h-1v1h-1v-1h-1v-1h1zM378 229h1v1h1v1h-1v1h-1v-1h-1v-1h1zM378 233h1v1h1v1h-1v1h-1v-1h-1v-1h1zM378 239h1v1h1v1h-1v1h-1v-1h-1v-1h1zM378 240h1v1h1v1h-1v1h-1v-1h-1v-1h1zM378 241h1v1h1v1h-1v1h-1v-1h-1v-1h1zM378 242h1v1h1v1h-1v1h-1v-1h-1v-1h1zM378 245h1v1h1v1h-1v1h-1v-1h-1v-1h1zM378 247h1v1h1v1h-1v1h-1v-1h-1v-1h1zM378 250h1v1h1v1h-1v1h-1v-1h-1v-1h1zM378 252h1v1h1v1h-1v1h-1v-1h-1v-1h1zM378 257h1v1h1v1h-1v1h-1v-1h-1v-1h1zM378 258h1v1h1v1h-1v1h-1v-1h-1v-1h1zM378 260h1v1h1v1h-1v1h-1v-1h-1v-1h1zM378 262h1v1h1v1h-1v1h-1v-1h-1v-1h1zM378 266h1v1h1v1h-1v1h-1v-1h-1v-1h1zM378 268h1v1h1v1h-1v1h-1v-1h-1v-1h1zM378 269h1v1h1v1h-1v1h-1v-1h-1v-1h1zM378 271h1v1h1v1h-1v1h-1v-1h-1v-1h1zM378 281h1v1h1v1h-1v1h-1v-1h-1v-1h1zM378 288h1v1h1v1h-1v1h-1v-1h-1v-1h1zM378 291h1v1h1v1h-1v1h-1v-1h-1v-1h1zM378 299h1v1h1v1h-1v1h-1v-1h-1v-1h1zM378 305h1v1h1v1h-1v1h-1v-1h-1v-1h1zM378 311h1v1h1v1h-1v1h-1v-1h-1v-1h1zM379 185h1v1h1v1h-1v1h-1v-1h-1v-1h1zM379 189h1v1h1v1h-1v1h-1v-1h-1v-1h1zM379 190h1v1h1v1h-1v1h-1v-1h-1v-1h1zM379 191h1v1h1v1h-1v1h-1v-1h-1v-1h1zM379 192h1v1h1v1h-1v1h-1v-1h-1v-1h1zM379 196h1v1h1v1h-1v1h-1v-1h-1v-1h1zM379 203h1v1h1v1h-1v1h-1v-1h-1v-1h1zM379 210h1v1h1v1h-1v1h-1v-1h-1v-1h1zM379 219h1v1h1v1h-1v1h-1v-1h-1v-1h1zM379 220h1v1h1v1h-1v1h-1v-1h-1v-1h1zM379 221h1v1h1v1h-1v1h-1v-1h-1v-1h1zM379 223h1v1h1v1h-1v1h-1v-1h-1v-1h1zM379 226h1v1h1v1h-1v1h-1v-1h-1v-1h1zM379 234h1v1h1v1h-1v1h-1v-1h-1v-1h1zM379 239h1v1h1v1h-1v1h-1v-1h-1v-1h1zM379 241h1v1h1v1h-1v1h-1v-1h-1v-1h1zM379 245h1v1h1v1h-1v1h-1v-1h-1v-1h1zM379 246h1v1h1v1h-1v1h-1v-1h-1v-1h1zM379 247h1v1h1v1h-1v1h-1v-1h-1v-1h1zM379 248h1v1h1v1h-1v1h-1v-1h-1v-1h1zM379 250h1v1h1v1h-1v1h-1v-1h-1v-1h1zM379 252h1v1h1v1h-1v1h-1v-1h-1v-1h1zM379 254h1v1h1v1h-1v1h-1v-1h-1v-1h1zM379 255h1v1h1v1h-1v1h-1v-1h-1v-1h1zM379 256h1v1h1v1h-1v1h-1v-1h-1v-1h1zM379 257h1v1h1v1h-1v1h-1v-1h-1v-1h1zM379 263h1v1h1v1h-1v1h-1v-1h-1v-1h1zM379 265h1v1h1v1h-1v1h-1v-1h-1v-1h1zM379 266h1v1h1v1h-1v1h-1v-1h-1v-1h1zM379 267h1v1h1v1h-1v1h-1v-1h-1v-1h1zM379 269h1v1h1v1h-1v1h-1v-1h-1v-1h1zM379 270h1v1h1v1h-1v1h-1v-1h-1v-1h1zM379 271h1v1h1v1h-1v1h-1v-1h-1v-1h1zM379 273h1v1h1v1h-1v1h-1v-1h-1v-1h1zM379 276h1v1h1v1h-1v1h-1v-1h-1v-1h1zM379 285h1v1h1v1h-1v1h-1v-1h-1v-1h1zM379 289h1v1h1v1h-1v1h-1v-1h-1v-1h1zM379 290h1v1h1v1h-1v1h-1v-1h-1v-1h1zM379 294h1v1h1v1h-1v1h-1v-1h-1v-1h1zM379 298h1v1h1v1h-1v1h-1v-1h-1v-1h1zM379 303h1v1h1v1h-1v1h-1v-1h-1v-1h1zM379 310h1v1h1v1h-1v1h-1v-1h-1v-1h1zM379 316h1v1h1v1h-1v1h-1v-1h-1v-1h1zM380 186h1v1h1v1h-1v1h-1v-1h-1v-1h1zM380 192h1v1h1v1h-1v1h-1v-1h-1v-1h1zM380 223h1v1h1v1h-1v1h-1v-1h-1v-1h1zM380 244h1v1h1v1h-1v1h-1v-1h-1v-1h1zM380 252h1v1h1v1h-1v1h-1v-1h-1v-1h1zM380 253h1v1h1v1h-1v1h-1v-1h-1v-1h1zM380 254h1v1h1v1h-1v1h-1v-1h-1v-1h1zM380 255h1v1h1v1h-1v1h-1v-1h-1v-1h1zM380 256h1v1h1v1h-1v1h-1v-1h-1v-1h1zM380 257h1v1h1v1h-1v1h-1v-1h-1v-1h1zM380 260h1v1h1v1h-1v1h-1v-1h-1v-1h1zM380 261h1v1h1v1h-1v1h-1v-1h-1v-1h1zM380 262h1v1h1v1h-1v1h-1v-1h-1v-1h1zM380 265h1v1h1v1h-1v1h-1v-1h-1v-1h1zM380 268h1v1h1v1h-1v1h-1v-1h-1v-1h1zM380 276h1v1h1v1h-1v1h-1v-1h-1v-1h1zM380 287h1v1h1v1h-1v1h-1v-1h-1v-1h1zM380 290h1v1h1v1h-1v1h-1v-1h-1v-1h1zM380 292h1v1h1v1h-1v1h-1v-1h-1v-1h1zM380 295h1v1h1v1h-1v1h-1v-1h-1v-1h1zM380 298h1v1h1v1h-1v1h-1v-1h-1v-1h1zM380 299h1v1h1v1h-1v1h-1v-1h-1v-1h1zM380 304h1v1h1v1h-1v1h-1v-1h-1v-1h1zM380 308h1v1h1v1h-1v1h-1v-1h-1v-1h1zM380 313h1v1h1v1h-1v1h-1v-1h-1v-1h1zM380 314h1v1h1v1h-1v1h-1v-1h-1v-1h1zM381 185h1v1h1v1h-1v1h-1v-1h-1v-1h1zM381 192h1v1h1v1h-1v1h-1v-1h-1v-1h1zM381 197h1v1h1v1h-1v1h-1v-1h-1v-1h1zM381 204h1v1h1v1h-1v1h-1v-1h-1v-1h1zM381 205h1v1h1v1h-1v1h-1v-1h-1v-1h1zM381 216h1v1h1v1h-1v1h-1v-1h-1v-1h1zM381 225h1v1h1v1h-1v1h-1v-1h-1v-1h1zM381 229h1v1h1v1h-1v1h-1v-1h-1v-1h1zM381 233h1v1h1v1h-1v1h-1v-1h-1v-1h1zM381 237h1v1h1v1h-1v1h-1v-1h-1v-1h1zM381 240h1v1h1v1h-1v1h-1v-1h-1v-1h1zM381 244h1v1h1v1h-1v1h-1v-1h-1v-1h1zM381 246h1v1h1v1h-1v1h-1v-1h-1v-1h1zM381 251h1v1h1v1h-1v1h-1v-1h-1v-1h1zM381 253h1v1h1v1h-1v1h-1v-1h-1v-1h1zM381 257h1v1h1v1h-1v1h-1v-1h-1v-1h1zM381 259h1v1h1v1h-1v1h-1v-1h-1v-1h1zM381 260h1v1h1v1h-1v1h-1v-1h-1v-1h1zM381 261h1v1h1v1h-1v1h-1v-1h-1v-1h1zM381 263h1v1h1v1h-1v1h-1v-1h-1v-1h1zM381 264h1v1h1v1h-1v1h-1v-1h-1v-1h1zM381 265h1v1h1v1h-1v1h-1v-1h-1v-1h1zM381 266h1v1h1v1h-1v1h-1v-1h-1v-1h1zM381 267h1v1h1v1h-1v1h-1v-1h-1v-1h1zM381 268h1v1h1v1h-1v1h-1v-1h-1v-1h1zM381 269h1v1h1v1h-1v1h-1v-1h-1v-1h1zM381 270h1v1h1v1h-1v1h-1v-1h-1v-1h1zM381 271h1v1h1v1h-1v1h-1v-1h-1v-1h1zM381 272h1v1h1v1h-1v1h-1v-1h-1v-1h1zM381 279h1v1h1v1h-1v1h-1v-1h-1v-1h1zM381 283h1v1h1v1h-1v1h-1v-1h-1v-1h1zM381 290h1v1h1v1h-1v1h-1v-1h-1v-1h1zM381 293h1v1h1v1h-1v1h-1v-1h-1v-1h1zM381 301h1v1h1v1h-1v1h-1v-1h-1v-1h1zM381 302h1v1h1v1h-1v1h-1v-1h-1v-1h1zM381 303h1v1h1v1h-1v1h-1v-1h-1v-1h1zM381 304h1v1h1v1h-1v1h-1v-1h-1v-1h1zM381 306h1v1h1v1h-1v1h-1v-1h-1v-1h1zM381 307h1v1h1v1h-1v1h-1v-1h-1v-1h1zM382 202h1v1h1v1h-1v1h-1v-1h-1v-1h1zM382 203h1v1h1v1h-1v1h-1v-1h-1v-1h1zM382 206h1v1h1v1h-1v1h-1v-1h-1v-1h1zM382 210h1v1h1v1h-1v1h-1v-1h-1v-1h1zM382 211h1v1h1v1h-1v1h-1v-1h-1v-1h1zM382 225h1v1h1v1h-1v1h-1v-1h-1v-1h1zM382 241h1v1h1v1h-1v1h-1v-1h-1v-1h1zM382 243h1v1h1v1h-1v1h-1v-1h-1v-1h1zM382 245h1v1h1v1h-1v1h-1v-1h-1v-1h1zM382 252h1v1h1v1h-1v1h-1v-1h-1v-1h1zM382 256h1v1h1v1h-1v1h-1v-1h-1v-1h1zM382 257h1v1h1v1h-1v1h-1v-1h-1v-1h1zM382 259h1v1h1v1h-1v1h-1v-1h-1v-1h1zM382 262h1v1h1v1h-1v1h-1v-1h-1v-1h1zM382 264h1v1h1v1h-1v1h-1v-1h-1v-1h1zM382 267h1v1h1v1h-1v1h-1v-1h-1v-1h1zM382 269h1v1h1v1h-1v1h-1v-1h-1v-1h1zM382 270h1v1h1v1h-1v1h-1v-1h-1v-1h1zM382 271h1v1h1v1h-1v1h-1v-1h-1v-1h1zM382 272h1v1h1v1h-1v1h-1v-1h-1v-1h1zM382 273h1v1h1v1h-1v1h-1v-1h-1v-1h1zM382 278h1v1h1v1h-1v1h-1v-1h-1v-1h1zM382 281h1v1h1v1h-1v1h-1v-1h-1v-1h1zM382 287h1v1h1v1h-1v1h-1v-1h-1v-1h1zM382 288h1v1h1v1h-1v1h-1v-1h-1v-1h1zM382 289h1v1h1v1h-1v1h-1v-1h-1v-1h1zM382 293h1v1h1v1h-1v1h-1v-1h-1v-1h1zM382 298h1v1h1v1h-1v1h-1v-1h-1v-1h1zM382 300h1v1h1v1h-1v1h-1v-1h-1v-1h1zM382 305h1v1h1v1h-1v1h-1v-1h-1v-1h1zM383 185h1v1h1v1h-1v1h-1v-1h-1v-1h1zM383 187h1v1h1v1h-1v1h-1v-1h-1v-1h1zM383 194h1v1h1v1h-1v1h-1v-1h-1v-1h1zM383 196h1v1h1v1h-1v1h-1v-1h-1v-1h1zM383 200h1v1h1v1h-1v1h-1v-1h-1v-1h1zM383 210h1v1h1v1h-1v1h-1v-1h-1v-1h1zM383 221h1v1h1v1h-1v1h-1v-1h-1v-1h1zM383 226h1v1h1v1h-1v1h-1v-1h-1v-1h1zM383 256h1v1h1v1h-1v1h-1v-1h-1v-1h1zM383 258h1v1h1v1h-1v1h-1v-1h-1v-1h1zM383 263h1v1h1v1h-1v1h-1v-1h-1v-1h1zM383 265h1v1h1v1h-1v1h-1v-1h-1v-1h1zM383 266h1v1h1v1h-1v1h-1v-1h-1v-1h1zM383 268h1v1h1v1h-1v1h-1v-1h-1v-1h1zM383 270h1v1h1v1h-1v1h-1v-1h-1v-1h1zM383 271h1v1h1v1h-1v1h-1v-1h-1v-1h1zM383 284h1v1h1v1h-1v1h-1v-1h-1v-1h1zM383 287h1v1h1v1h-1v1h-1v-1h-1v-1h1zM383 289h1v1h1v1h-1v1h-1v-1h-1v-1h1zM383 295h1v1h1v1h-1v1h-1v-1h-1v-1h1zM383 300h1v1h1v1h-1v1h-1v-1h-1v-1h1zM383 303h1v1h1v1h-1v1h-1v-1h-1v-1h1zM383 310h1v1h1v1h-1v1h-1v-1h-1v-1h1zM383 314h1v1h1v1h-1v1h-1v-1h-1v-1h1zM384 196h1v1h1v1h-1v1h-1v-1h-1v-1h1zM384 202h1v1h1v1h-1v1h-1v-1h-1v-1h1zM384 203h1v1h1v1h-1v1h-1v-1h-1v-1h1zM384 205h1v1h1v1h-1v1h-1v-1h-1v-1h1zM384 206h1v1h1v1h-1v1h-1v-1h-1v-1h1zM384 207h1v1h1v1h-1v1h-1v-1h-1v-1h1zM384 223h1v1h1v1h-1v1h-1v-1h-1v-1h1zM384 226h1v1h1v1h-1v1h-1v-1h-1v-1h1zM384 237h1v1h1v1h-1v1h-1v-1h-1v-1h1zM384 238h1v1h1v1h-1v1h-1v-1h-1v-1h1zM384 240h1v1h1v1h-1v1h-1v-1h-1v-1h1zM384 243h1v1h1v1h-1v1h-1v-1h-1v-1h1zM384 244h1v1h1v1h-1v1h-1v-1h-1v-1h1zM384 245h1v1h1v1h-1v1h-1v-1h-1v-1h1zM384 248h1v1h1v1h-1v1h-1v-1h-1v-1h1zM384 249h1v1h1v1h-1v1h-1v-1h-1v-1h1zM384 252h1v1h1v1h-1v1h-1v-1h-1v-1h1zM384 254h1v1h1v1h-1v1h-1v-1h-1v-1h1zM384 259h1v1h1v1h-1v1h-1v-1h-1v-1h1zM384 262h1v1h1v1h-1v1h-1v-1h-1v-1h1zM384 263h1v1h1v1h-1v1h-1v-1h-1v-1h1zM384 265h1v1h1v1h-1v1h-1v-1h-1v-1h1zM384 268h1v1h1v1h-1v1h-1v-1h-1v-1h1zM384 271h1v1h1v1h-1v1h-1v-1h-1v-1h1zM384 272h1v1h1v1h-1v1h-1v-1h-1v-1h1zM384 275h1v1h1v1h-1v1h-1v-1h-1v-1h1zM384 282h1v1h1v1h-1v1h-1v-1h-1v-1h1zM384 283h1v1h1v1h-1v1h-1v-1h-1v-1h1zM384 286h1v1h1v1h-1v1h-1v-1h-1v-1h1zM384 287h1v1h1v1h-1v1h-1v-1h-1v-1h1zM384 292h1v1h1v1h-1v1h-1v-1h-1v-1h1zM384 293h1v1h1v1h-1v1h-1v-1h-1v-1h1zM384 301h1v1h1v1h-1v1h-1v-1h-1v-1h1zM384 304h1v1h1v1h-1v1h-1v-1h-1v-1h1zM385 187h1v1h1v1h-1v1h-1v-1h-1v-1h1zM385 204h1v1h1v1h-1v1h-1v-1h-1v-1h1zM385 205h1v1h1v1h-1v1h-1v-1h-1v-1h1zM385 224h1v1h1v1h-1v1h-1v-1h-1v-1h1zM385 226h1v1h1v1h-1v1h-1v-1h-1v-1h1zM385 227h1v1h1v1h-1v1h-1v-1h-1v-1h1zM385 235h1v1h1v1h-1v1h-1v-1h-1v-1h1zM385 241h1v1h1v1h-1v1h-1v-1h-1v-1h1zM385 243h1v1h1v1h-1v1h-1v-1h-1v-1h1zM385 249h1v1h1v1h-1v1h-1v-1h-1v-1h1zM385 251h1v1h1v1h-1v1h-1v-1h-1v-1h1zM385 253h1v1h1v1h-1v1h-1v-1h-1v-1h1zM385 258h1v1h1v1h-1v1h-1v-1h-1v-1h1zM385 260h1v1h1v1h-1v1h-1v-1h-1v-1h1zM385 264h1v1h1v1h-1v1h-1v-1h-1v-1h1zM385 269h1v1h1v1h-1v1h-1v-1h-1v-1h1zM385 275h1v1h1v1h-1v1h-1v-1h-1v-1h1zM385 277h1v1h1v1h-1v1h-1v-1h-1v-1h1zM385 278h1v1h1v1h-1v1h-1v-1h-1v-1h1zM385 284h1v1h1v1h-1v1h-1v-1h-1v-1h1zM385 291h1v1h1v1h-1v1h-1v-1h-1v-1h1zM385 293h1v1h1v1h-1v1h-1v-1h-1v-1h1zM385 294h1v1h1v1h-1v1h-1v-1h-1v-1h1zM385 301h1v1h1v1h-1v1h-1v-1h-1v-1h1zM385 303h1v1h1v1h-1v1h-1v-1h-1v-1h1zM386 186h1v1h1v1h-1v1h-1v-1h-1v-1h1zM386 193h1v1h1v1h-1v1h-1v-1h-1v-1h1zM386 215h1v1h1v1h-1v1h-1v-1h-1v-1h1zM386 223h1v1h1v1h-1v1h-1v-1h-1v-1h1zM386 225h1v1h1v1h-1v1h-1v-1h-1v-1h1zM386 231h1v1h1v1h-1v1h-1v-1h-1v-1h1zM386 235h1v1h1v1h-1v1h-1v-1h-1v-1h1zM386 252h1v1h1v1h-1v1h-1v-1h-1v-1h1zM386 258h1v1h1v1h-1v1h-1v-1h-1v-1h1zM386 259h1v1h1v1h-1v1h-1v-1h-1v-1h1zM386 260h1v1h1v1h-1v1h-1v-1h-1v-1h1zM386 270h1v1h1v1h-1v1h-1v-1h-1v-1h1zM386 271h1v1h1v1h-1v1h-1v-1h-1v-1h1zM386 272h1v1h1v1h-1v1h-1v-1h-1v-1h1zM386 276h1v1h1v1h-1v1h-1v-1h-1v-1h1zM386 279h1v1h1v1h-1v1h-1v-1h-1v-1h1zM386 286h1v1h1v1h-1v1h-1v-1h-1v-1h1zM386 287h1v1h1v1h-1v1h-1v-1h-1v-1h1zM386 291h1v1h1v1h-1v1h-1v-1h-1v-1h1zM386 294h1v1h1v1h-1v1h-1v-1h-1v-1h1zM386 304h1v1h1v1h-1v1h-1v-1h-1v-1h1zM386 305h1v1h1v1h-1v1h-1v-1h-1v-1h1zM386 312h1v1h1v1h-1v1h-1v-1h-1v-1h1zM386 313h1v1h1v1h-1v1h-1v-1h-1v-1h1zM386 314h1v1h1v1h-1v1h-1v-1h-1v-1h1zM387 229h1v1h1v1h-1v1h-1v-1h-1v-1h1zM387 232h1v1h1v1h-1v1h-1v-1h-1v-1h1zM387 234h1v1h1v1h-1v1h-1v-1h-1v-1h1zM387 235h1v1h1v1h-1v1h-1v-1h-1v-1h1zM387 237h1v1h1v1h-1v1h-1v-1h-1v-1h1zM387 239h1v1h1v1h-1v1h-1v-1h-1v-1h1zM387 245h1v1h1v1h-1v1h-1v-1h-1v-1h1zM387 247h1v1h1v1h-1v1h-1v-1h-1v-1h1zM387 251h1v1h1v1h-1v1h-1v-1h-1v-1h1zM387 253h1v1h1v1h-1v1h-1v-1h-1v-1h1zM387 254h1v1h1v1h-1v1h-1v-1h-1v-1h1zM387 256h1v1h1v1h-1v1h-1v-1h-1v-1h1zM387 271h1v1h1v1h-1v1h-1v-1h-1v-1h1zM387 272h1v1h1v1h-1v1h-1v-1h-1v-1h1zM387 275h1v1h1v1h-1v1h-1v-1h-1v-1h1zM387 286h1v1h1v1h-1v1h-1v-1h-1v-1h1zM387 287h1v1h1v1h-1v1h-1v-1h-1v-1h1zM387 295h1v1h1v1h-1v1h-1v-1h-1v-1h1zM387 301h1v1h1v1h-1v1h-1v-1h-1v-1h1zM388 194h1v1h1v1h-1v1h-1v-1h-1v-1h1zM388 211h1v1h1v1h-1v1h-1v-1h-1v-1h1zM388 241h1v1h1v1h-1v1h-1v-1h-1v-1h1zM388 244h1v1h1v1h-1v1h-1v-1h-1v-1h1zM388 245h1v1h1v1h-1v1h-1v-1h-1v-1h1zM388 250h1v1h1v1h-1v1h-1v-1h-1v-1h1zM388 251h1v1h1v1h-1v1h-1v-1h-1v-1h1zM388 254h1v1h1v1h-1v1h-1v-1h-1v-1h1zM388 255h1v1h1v1h-1v1h-1v-1h-1v-1h1zM388 270h1v1h1v1h-1v1h-1v-1h-1v-1h1zM388 275h1v1h1v1h-1v1h-1v-1h-1v-1h1zM388 279h1v1h1v1h-1v1h-1v-1h-1v-1h1zM388 285h1v1h1v1h-1v1h-1v-1h-1v-1h1zM388 289h1v1h1v1h-1v1h-1v-1h-1v-1h1zM388 292h1v1h1v1h-1v1h-1v-1h-1v-1h1zM388 293h1v1h1v1h-1v1h-1v-1h-1v-1h1zM388 294h1v1h1v1h-1v1h-1v-1h-1v-1h1zM388 301h1v1h1v1h-1v1h-1v-1h-1v-1h1zM388 302h1v1h1v1h-1v1h-1v-1h-1v-1h1zM388 303h1v1h1v1h-1v1h-1v-1h-1v-1h1zM388 312h1v1h1v1h-1v1h-1v-1h-1v-1h1zM388 313h1v1h1v1h-1v1h-1v-1h-1v-1h1zM389 186h1v1h1v1h-1v1h-1v-1h-1v-1h1zM389 216h1v1h1v1h-1v1h-1v-1h-1v-1h1zM389 223h1v1h1v1h-1v1h-1v-1h-1v-1h1zM389 237h1v1h1v1h-1v1h-1v-1h-1v-1h1zM389 247h1v1h1v1h-1v1h-1v-1h-1v-1h1zM389 250h1v1h1v1h-1v1h-1v-1h-1v-1h1zM389 261h1v1h1v1h-1v1h-1v-1h-1v-1h1zM389 265h1v1h1v1h-1v1h-1v-1h-1v-1h1zM389 269h1v1h1v1h-1v1h-1v-1h-1v-1h1zM389 272h1v1h1v1h-1v1h-1v-1h-1v-1h1zM389 273h1v1h1v1h-1v1h-1v-1h-1v-1h1zM389 276h1v1h1v1h-1v1h-1v-1h-1v-1h1zM389 279h1v1h1v1h-1v1h-1v-1h-1v-1h1zM389 280h1v1h1v1h-1v1h-1v-1h-1v-1h1zM389 281h1v1h1v1h-1v1h-1v-1h-1v-1h1zM389 282h1v1h1v1h-1v1h-1v-1h-1v-1h1zM389 283h1v1h1v1h-1v1h-1v-1h-1v-1h1zM389 287h1v1h1v1h-1v1h-1v-1h-1v-1h1zM389 288h1v1h1v1h-1v1h-1v-1h-1v-1h1zM389 292h1v1h1v1h-1v1h-1v-1h-1v-1h1zM389 294h1v1h1v1h-1v1h-1v-1h-1v-1h1zM389 296h1v1h1v1h-1v1h-1v-1h-1v-1h1zM389 302h1v1h1v1h-1v1h-1v-1h-1v-1h1zM389 303h1v1h1v1h-1v1h-1v-1h-1v-1h1zM389 307h1v1h1v1h-1v1h-1v-1h-1v-1h1zM390 197h1v1h1v1h-1v1h-1v-1h-1v-1h1zM390 223h1v1h1v1h-1v1h-1v-1h-1v-1h1zM390 225h1v1h1v1h-1v1h-1v-1h-1v-1h1zM390 236h1v1h1v1h-1v1h-1v-1h-1v-1h1zM390 244h1v1h1v1h-1v1h-1v-1h-1v-1h1zM390 251h1v1h1v1h-1v1h-1v-1h-1v-1h1zM390 260h1v1h1v1h-1v1h-1v-1h-1v-1h1zM390 264h1v1h1v1h-1v1h-1v-1h-1v-1h1zM390 265h1v1h1v1h-1v1h-1v-1h-1v-1h1zM390 268h1v1h1v1h-1v1h-1v-1h-1v-1h1zM390 270h1v1h1v1h-1v1h-1v-1h-1v-1h1zM390 275h1v1h1v1h-1v1h-1v-1h-1v-1h1zM390 283h1v1h1v1h-1v1h-1v-1h-1v-1h1zM390 284h1v1h1v1h-1v1h-1v-1h-1v-1h1zM390 291h1v1h1v1h-1v1h-1v-1h-1v-1h1zM390 292h1v1h1v1h-1v1h-1v-1h-1v-1h1zM390 294h1v1h1v1h-1v1h-1v-1h-1v-1h1zM390 298h1v1h1v1h-1v1h-1v-1h-1v-1h1zM390 300h1v1h1v1h-1v1h-1v-1h-1v-1h1zM390 302h1v1h1v1h-1v1h-1v-1h-1v-1h1zM390 303h1v1h1v1h-1v1h-1v-1h-1v-1h1zM390 307h1v1h1v1h-1v1h-1v-1h-1v-1h1zM390 311h1v1h1v1h-1v1h-1v-1h-1v-1h1zM391 247h1v1h1v1h-1v1h-1v-1h-1v-1h1zM391 256h1v1h1v1h-1v1h-1v-1h-1v-1h1zM391 262h1v1h1v1h-1v1h-1v-1h-1v-1h1zM391 269h1v1h1v1h-1v1h-1v-1h-1v-1h1zM391 270h1v1h1v1h-1v1h-1v-1h-1v-1h1zM391 272h1v1h1v1h-1v1h-1v-1h-1v-1h1zM391 282h1v1h1v1h-1v1h-1v-1h-1v-1h1zM391 285h1v1h1v1h-1v1h-1v-1h-1v-1h1zM391 286h1v1h1v1h-1v1h-1v-1h-1v-1h1zM391 291h1v1h1v1h-1v1h-1v-1h-1v-1h1zM391 303h1v1h1v1h-1v1h-1v-1h-1v-1h1zM392 218h1v1h1v1h-1v1h-1v-1h-1v-1h1zM392 225h1v1h1v1h-1v1h-1v-1h-1v-1h1zM392 226h1v1h1v1h-1v1h-1v-1h-1v-1h1zM392 231h1v1h1v1h-1v1h-1v-1h-1v-1h1zM392 251h1v1h1v1h-1v1h-1v-1h-1v-1h1zM392 259h1v1h1v1h-1v1h-1v-1h-1v-1h1zM392 261h1v1h1v1h-1v1h-1v-1h-1v-1h1zM392 262h1v1h1v1h-1v1h-1v-1h-1v-1h1zM392 266h1v1h1v1h-1v1h-1v-1h-1v-1h1zM392 268h1v1h1v1h-1v1h-1v-1h-1v-1h1zM392 270h1v1h1v1h-1v1h-1v-1h-1v-1h1zM392 273h1v1h1v1h-1v1h-1v-1h-1v-1h1zM392 274h1v1h1v1h-1v1h-1v-1h-1v-1h1zM392 276h1v1h1v1h-1v1h-1v-1h-1v-1h1zM392 277h1v1h1v1h-1v1h-1v-1h-1v-1h1zM392 281h1v1h1v1h-1v1h-1v-1h-1v-1h1zM392 283h1v1h1v1h-1v1h-1v-1h-1v-1h1zM392 285h1v1h1v1h-1v1h-1v-1h-1v-1h1zM392 288h1v1h1v1h-1v1h-1v-1h-1v-1h1zM392 295h1v1h1v1h-1v1h-1v-1h-1v-1h1zM392 303h1v1h1v1h-1v1h-1v-1h-1v-1h1zM392 304h1v1h1v1h-1v1h-1v-1h-1v-1h1zM392 307h1v1h1v1h-1v1h-1v-1h-1v-1h1zM393 187h1v1h1v1h-1v1h-1v-1h-1v-1h1zM393 194h1v1h1v1h-1v1h-1v-1h-1v-1h1zM393 198h1v1h1v1h-1v1h-1v-1h-1v-1h1zM393 200h1v1h1v1h-1v1h-1v-1h-1v-1h1zM393 235h1v1h1v1h-1v1h-1v-1h-1v-1h1zM393 239h1v1h1v1h-1v1h-1v-1h-1v-1h1zM393 241h1v1h1v1h-1v1h-1v-1h-1v-1h1zM393 242h1v1h1v1h-1v1h-1v-1h-1v-1h1zM393 250h1v1h1v1h-1v1h-1v-1h-1v-1h1zM393 263h1v1h1v1h-1v1h-1v-1h-1v-1h1zM393 270h1v1h1v1h-1v1h-1v-1h-1v-1h1zM393 281h1v1h1v1h-1v1h-1v-1h-1v-1h1zM393 282h1v1h1v1h-1v1h-1v-1h-1v-1h1zM393 288h1v1h1v1h-1v1h-1v-1h-1v-1h1zM393 294h1v1h1v1h-1v1h-1v-1h-1v-1h1zM393 295h1v1h1v1h-1v1h-1v-1h-1v-1h1zM393 302h1v1h1v1h-1v1h-1v-1h-1v-1h1zM394 220h1v1h1v1h-1v1h-1v-1h-1v-1h1zM394 233h1v1h1v1h-1v1h-1v-1h-1v-1h1zM394 253h1v1h1v1h-1v1h-1v-1h-1v-1h1zM394 261h1v1h1v1h-1v1h-1v-1h-1v-1h1zM394 262h1v1h1v1h-1v1h-1v-1h-1v-1h1zM394 274h1v1h1v1h-1v1h-1v-1h-1v-1h1zM394 275h1v1h1v1h-1v1h-1v-1h-1v-1h1zM394 278h1v1h1v1h-1v1h-1v-1h-1v-1h1zM394 279h1v1h1v1h-1v1h-1v-1h-1v-1h1zM394 289h1v1h1v1h-1v1h-1v-1h-1v-1h1zM394 291h1v1h1v1h-1v1h-1v-1h-1v-1h1zM394 294h1v1h1v1h-1v1h-1v-1h-1v-1h1zM394 297h1v1h1v1h-1v1h-1v-1h-1v-1h1zM394 301h1v1h1v1h-1v1h-1v-1h-1v-1h1zM394 310h1v1h1v1h-1v1h-1v-1h-1v-1h1zM394 313h1v1h1v1h-1v1h-1v-1h-1v-1h1zM395 195h1v1h1v1h-1v1h-1v-1h-1v-1h1zM395 224h1v1h1v1h-1v1h-1v-1h-1v-1h1zM395 231h1v1h1v1h-1v1h-1v-1h-1v-1h1zM395 240h1v1h1v1h-1v1h-1v-1h-1v-1h1zM395 257h1v1h1v1h-1v1h-1v-1h-1v-1h1zM395 269h1v1h1v1h-1v1h-1v-1h-1v-1h1zM395 272h1v1h1v1h-1v1h-1v-1h-1v-1h1zM395 275h1v1h1v1h-1v1h-1v-1h-1v-1h1zM395 279h1v1h1v1h-1v1h-1v-1h-1v-1h1zM395 283h1v1h1v1h-1v1h-1v-1h-1v-1h1zM395 288h1v1h1v1h-1v1h-1v-1h-1v-1h1zM395 292h1v1h1v1h-1v1h-1v-1h-1v-1h1zM395 296h1v1h1v1h-1v1h-1v-1h-1v-1h1zM395 298h1v1h1v1h-1v1h-1v-1h-1v-1h1zM395 304h1v1h1v1h-1v1h-1v-1h-1v-1h1zM395 305h1v1h1v1h-1v1h-1v-1h-1v-1h1zM395 306h1v1h1v1h-1v1h-1v-1h-1v-1h1zM395 309h1v1h1v1h-1v1h-1v-1h-1v-1h1zM395 310h1v1h1v1h-1v1h-1v-1h-1v-1h1zM395 312h1v1h1v1h-1v1h-1v-1h-1v-1h1zM395 316h1v1h1v1h-1v1h-1v-1h-1v-1h1zM395 317h1v1h1v1h-1v1h-1v-1h-1v-1h1zM396 267h1v1h1v1h-1v1h-1v-1h-1v-1h1zM396 275h1v1h1v1h-1v1h-1v-1h-1v-1h1zM396 283h1v1h1v1h-1v1h-1v-1h-1v-1h1zM396 287h1v1h1v1h-1v1h-1v-1h-1v-1h1zM396 289h1v1h1v1h-1v1h-1v-1h-1v-1h1zM396 294h1v1h1v1h-1v1h-1v-1h-1v-1h1zM396 306h1v1h1v1h-1v1h-1v-1h-1v-1h1zM396 307h1v1h1v1h-1v1h-1v-1h-1v-1h1zM396 308h1v1h1v1h-1v1h-1v-1h-1v-1h1zM396 311h1v1h1v1h-1v1h-1v-1h-1v-1h1zM396 313h1v1h1v1h-1v1h-1v-1h-1v-1h1zM397 206h1v1h1v1h-1v1h-1v-1h-1v-1h1zM397 234h1v1h1v1h-1v1h-1v-1h-1v-1h1zM397 241h1v1h1v1h-1v1h-1v-1h-1v-1h1zM397 242h1v1h1v1h-1v1h-1v-1h-1v-1h1zM397 262h1v1h1v1h-1v1h-1v-1h-1v-1h1zM397 265h1v1h1v1h-1v1h-1v-1h-1v-1h1zM397 270h1v1h1v1h-1v1h-1v-1h-1v-1h1zM397 275h1v1h1v1h-1v1h-1v-1h-1v-1h1zM397 283h1v1h1v1h-1v1h-1v-1h-1v-1h1zM397 284h1v1h1v1h-1v1h-1v-1h-1v-1h1zM397 285h1v1h1v1h-1v1h-1v-1h-1v-1h1zM397 286h1v1h1v1h-1v1h-1v-1h-1v-1h1zM397 290h1v1h1v1h-1v1h-1v-1h-1v-1h1zM397 294h1v1h1v1h-1v1h-1v-1h-1v-1h1zM397 303h1v1h1v1h-1v1h-1v-1h-1v-1h1zM397 306h1v1h1v1h-1v1h-1v-1h-1v-1h1zM397 316h1v1h1v1h-1v1h-1v-1h-1v-1h1zM398 252h1v1h1v1h-1v1h-1v-1h-1v-1h1zM398 259h1v1h1v1h-1v1h-1v-1h-1v-1h1zM398 269h1v1h1v1h-1v1h-1v-1h-1v-1h1zM398 271h1v1h1v1h-1v1h-1v-1h-1v-1h1zM398 273h1v1h1v1h-1v1h-1v-1h-1v-1h1zM398 275h1v1h1v1h-1v1h-1v-1h-1v-1h1zM398 280h1v1h1v1h-1v1h-1v-1h-1v-1h1zM398 285h1v1h1v1h-1v1h-1v-1h-1v-1h1zM398 286h1v1h1v1h-1v1h-1v-1h-1v-1h1zM398 288h1v1h1v1h-1v1h-1v-1h-1v-1h1zM399 214h1v1h1v1h-1v1h-1v-1h-1v-1h1zM399 260h1v1h1v1h-1v1h-1v-1h-1v-1h1zM399 277h1v1h1v1h-1v1h-1v-1h-1v-1h1zM399 279h1v1h1v1h-1v1h-1v-1h-1v-1h1zM399 282h1v1h1v1h-1v1h-1v-1h-1v-1h1zM399 285h1v1h1v1h-1v1h-1v-1h-1v-1h1zM399 289h1v1h1v1h-1v1h-1v-1h-1v-1h1zM399 293h1v1h1v1h-1v1h-1v-1h-1v-1h1zM399 295h1v1h1v1h-1v1h-1v-1h-1v-1h1zM399 313h1v1h1v1h-1v1h-1v-1h-1v-1h1zM0 333h1v1h1v1h-1v1h-1v-1h-1v-1h1zM1 334h1v1h1v1h-1v1h-1v-1h-1v-1h1zM33 328h1v1h1v1h-1v1h-1v-1h-1v-1h1zM82 328h1v1h1v1h-1v1h-1v-1h-1v-1h1zM98 295h1v1h1v1h-1v1h-1v-1h-1v-1h1zM130 332h1v1h1v1h-1v1h-1v-1h-1v-1h1zM146 332h1v1h1v1h-1v1h-1v-1h-1v-1h1zM153 332h1v1h1v1h-1v1h-1v-1h-1v-1h1zM168 333h1v1h1v1h-1v1h-1v-1h-1v-1h1zM170 333h1v1h1v1h-1v1h-1v-1h-1v-1h1zM175 321h1v1h1v1h-1v1h-1v-1h-1v-1h1zM186 327h1v1h1v1h-1v1h-1v-1h-1v-1h1zM195 332h1v1h1v1h-1v1h-1v-1h-1v-1h1zM232 329h1v1h1v1h-1v1h-1v-1h-1v-1h1zM241 297h1v1h1v1h-1v1h-1v-1h-1v-1h1zM243 278h1v1h1v1h-1v1h-1v-1h-1v-1h1zM244 314h1v1h1v1h-1v1h-1v-1h-1v-1h1zM244 321h1v1h1v1h-1v1h-1v-1h-1v-1h1zM245 318h1v1h1v1h-1v1h-1v-1h-1v-1h1zM246 329h1v1h1v1h-1v1h-1v-1h-1v-1h1zM250 322h1v1h1v1h-1v1h-1v-1h-1v-1h1zM251 321h1v1h1v1h-1v1h-1v-1h-1v-1h1zM259 311h1v1h1v1h-1v1h-1v-1h-1v-1h1zM277 257h1v1h1v1h-1v1h-1v-1h-1v-1h1zM286 324h1v1h1v1h-1v1h-1v-1h-1v-1h1zM287 264h1v1h1v1h-1v1h-1v-1h-1v-1h1zM287 323h1v1h1v1h-1v1h-1v-1h-1v-1h1zM287 333h1v1h1v1h-1v1h-1v-1h-1v-1h1zM290 317h1v1h1v1h-1v1h-1v-1h-1v-1h1zM290 321h1v1h1v1h-1v1h-1v-1h-1v-1h1zM290 329h1v1h1v1h-1v1h-1v-1h-1v-1h1zM292 328h1v1h1v1h-1v1h-1v-1h-1v-1h1zM293 303h1v1h1v1h-1v1h-1v-1h-1v-1h1zM293 327h1v1h1v1h-1v1h-1v-1h-1v-1h1zM293 334h1v1h1v1h-1v1h-1v-1h-1v-1h1zM295 323h1v1h1v1h-1v1h-1v-1h-1v-1h1zM296 319h1v1h1v1h-1v1h-1v-1h-1v-1h1zM296 328h1v1h1v1h-1v1h-1v-1h-1v-1h1zM300 263h1v1h1v1h-1v1h-1v-1h-1v-1h1zM300 331h1v1h1v1h-1v1h-1v-1h-1v-1h1zM301 301h1v1h1v1h-1v1h-1v-1h-1v-1h1zM301 316h1v1h1v1h-1v1h-1v-1h-1v-1h1zM301 321h1v1h1v1h-1v1h-1v-1h-1v-1h1zM303 308h1v1h1v1h-1v1h-1v-1h-1v-1h1zM303 321h1v1h1v1h-1v1h-1v-1h-1v-1h1zM304 326h1v1h1v1h-1v1h-1v-1h-1v-1h1zM306 244h1v1h1v1h-1v1h-1v-1h-1v-1h1zM308 300h1v1h1v1h-1v1h-1v-1h-1v-1h1zM308 319h1v1h1v1h-1v1h-1v-1h-1v-1h1zM309 294h1v1h1v1h-1v1h-1v-1h-1v-1h1zM310 311h1v1h1v1h-1v1h-1v-1h-1v-1h1zM310 315h1v1h1v1h-1v1h-1v-1h-1v-1h1zM312 283h1v1h1v1h-1v1h-1v-1h-1v-1h1zM312 306h1v1h1v1h-1v1h-1v-1h-1v-1h1zM312 314h1v1h1v1h-1v1h-1v-1h-1v-1h1zM313 302h1v1h1v1h-1v1h-1v-1h-1v-1h1zM314 283h1v1h1v1h-1v1h-1v-1h-1v-1h1zM314 292h1v1h1v1h-1v1h-1v-1h-1v-1h1zM315 319h1v1h1v1h-1v1h-1v-1h-1v-1h1zM316 264h1v1h1v1h-1v1h-1v-1h-1v-1h1zM316 330h1v1h1v1h-1v1h-1v-1h-1v-1h1zM317 288h1v1h1v1h-1v1h-1v-1h-1v-1h1zM317 290h1v1h1v1h-1v1h-1v-1h-1v-1h1zM317 303h1v1h1v1h-1v1h-1v-1h-1v-1h1zM317 319h1v1h1v1h-1v1h-1v-1h-1v-1h1zM318 292h1v1h1v1h-1v1h-1v-1h-1v-1h1zM318 310h1v1h1v1h-1v1h-1v-1h-1v-1h1zM318 312h1v1h1v1h-1v1h-1v-1h-1v-1h1zM318 325h1v1h1v1h-1v1h-1v-1h-1v-1h1zM318 331h1v1h1v1h-1v1h-1v-1h-1v-1h1zM319 328h1v1h1v1h-1v1h-1v-1h-1v-1h1zM320 311h1v1h1v1h-1v1h-1v-1h-1v-1h1zM320 317h1v1h1v1h-1v1h-1v-1h-1v-1h1zM320 326h1v1h1v1h-1v1h-1v-1h-1v-1h1zM321 310h1v1h1v1h-1v1h-1v-1h-1v-1h1zM322 289h1v1h1v1h-1v1h-1v-1h-1v-1h1zM322 334h1v1h1v1h-1v1h-1v-1h-1v-1h1zM323 289h1v1h1v1h-1v1h-1v-1h-1v-1h1zM323 316h1v1h1v1h-1v1h-1v-1h-1v-1h1zM323 324h1v1h1v1h-1v1h-1v-1h-1v-1h1zM324 320h1v1h1v1h-1v1h-1v-1h-1v-1h1zM325 291h1v1h1v1h-1v1h-1v-1h-1v-1h1zM325 310h1v1h1v1h-1v1h-1v-1h-1v-1h1zM326 302h1v1h1v1h-1v1h-1v-1h-1v-1h1zM326 312h1v1h1v1h-1v1h-1v-1h-1v-1h1zM327 272h1v1h1v1h-1v1h-1v-1h-1v-1h1zM327 307h1v1h1v1h-1v1h-1v-1h-1v-1h1zM327 314h1v1h1v1h-1v1h-1v-1h-1v-1h1zM328 278h1v1h1v1h-1v1h-1v-1h-1v-1h1zM328 287h1v1h1v1h-1v1h-1v-1h-1v-1h1zM329 294h1v1h1v1h-1v1h-1v-1h-1v-1h1zM329 296h1v1h1v1h-1v1h-1v-1h-1v-1h1zM330 123h1v1h1v1h-1v1h-1v-1h-1v-1h1zM330 272h1v1h1v1h-1v1h-1v-1h-1v-1h1zM330 304h1v1h1v1h-1v1h-1v-1h-1v-1h1zM331 167h1v1h1v1h-1v1h-1v-1h-1v-1h1zM331 257h1v1h1v1h-1v1h-1v-1h-1v-1h1zM331 318h1v1h1v1h-1v1h-1v-1h-1v-1h1zM332 292h1v1h1v1h-1v1h-1v-1h-1v-1h1zM332 323h1v1h1v1h-1v1h-1v-1h-1v-1h1zM333 302h1v1h1v1h-1v1h-1v-1h-1v-1h1zM334 265h1v1h1v1h-1v1h-1v-1h-1v-1h1zM334 306h1v1h1v1h-1v1h-1v-1h-1v-1h1zM335 120h1v1h1v1h-1v1h-1v-1h-1v-1h1zM335 249h1v1h1v1h-1v1h-1v-1h-1v-1h1zM335 277h1v1h1v1h-1v1h-1v-1h-1v-1h1zM335 324h1v1h1v1h-1v1h-1v-1h-1v-1h1zM336 175h1v1h1v1h-1v1h-1v-1h-1v-1h1zM336 295h1v1h1v1h-1v1h-1v-1h-1v-1h1zM336 297h1v1h1v1h-1v1h-1v-1h-1v-1h1zM336 324h1v1h1v1h-1v1h-1v-1h-1v-1h1zM336 332h1v1h1v1h-1v1h-1v-1h-1v-1h1zM337 227h1v1h1v1h-1v1h-1v-1h-1v-1h1zM337 291h1v1h1v1h-1v1h-1v-1h-1v-1h1zM337 332h1v1h1v1h-1v1h-1v-1h-1v-1h1zM338 95h1v1h1v1h-1v1h-1v-1h-1v-1h1zM338 206h1v1h1v1h-1v1h-1v-1h-1v-1h1zM338 219h1v1h1v1h-1v1h-1v-1h-1v-1h1zM338 252h1v1h1v1h-1v1h-1v-1h-1v-1h1zM338 287h1v1h1v1h-1v1h-1v-1h-1v-1h1zM338 334h1v1h1v1h-1v1h-1v-1h-1v-1h1zM339 130h1v1h1v1h-1v1h-1v-1h-1v-1h1zM339 191h1v1h1v1h-1v1h-1v-1h-1v-1h1zM339 274h1v1h1v1h-1v1h-1v-1h-1v-1h1zM339 276h1v1h1v1h-1v1h-1v-1h-1v-1h1zM339 298h1v1h1v1h-1v1h-1v-1h-1v-1h1zM340 231h1v1h1v1h-1v1h-1v-1h-1v-1h1zM340 320h1v1h1v1h-1v1h-1v-1h-1v-1h1zM340 332h1v1h1v1h-1v1h-1v-1h-1v-1h1zM341 225h1v1h1v1h-1v1h-1v-1h-1v-1h1zM342 322h1v1h1v1h-1v1h-1v-1h-1v-1h1zM343 73h1v1h1v1h-1v1h-1v-1h-1v-1h1zM343 159h1v1h1v1h-1v1h-1v-1h-1v-1h1zM343 222h1v1h1v1h-1v1h-1v-1h-1v-1h1zM343 324h1v1h1v1h-1v1h-1v-1h-1v-1h1zM345 164h1v1h1v1h-1v1h-1v-1h-1v-1h1zM345 226h1v1h1v1h-1v1h-1v-1h-1v-1h1zM345 319h1v1h1v1h-1v1h-1v-1h-1v-1h1zM346 42h1v1h1v1h-1v1h-1v-1h-1v-1h1zM346 54h1v1h1v1h-1v1h-1v-1h-1v-1h1zM347 167h1v1h1v1h-1v1h-1v-1h-1v-1h1zM347 321h1v1h1v1h-1v1h-1v-1h-1v-1h1zM349 40h1v1h1v1h-1v1h-1v-1h-1v-1h1zM349 320h1v1h1v1h-1v1h-1v-1h-1v-1h1zM350 45h1v1h1v1h-1v1h-1v-1h-1v-1h1zM350 155h1v1h1v1h-1v1h-1v-1h-1v-1h1zM350 334h1v1h1v1h-1v1h-1v-1h-1v-1h1zM351 141h1v1h1v1h-1v1h-1v-1h-1v-1h1zM352 106h1v1h1v1h-1v1h-1v-1h-1v-1h1zM353 65h1v1h1v1h-1v1h-1v-1h-1v-1h1zM353 89h1v1h1v1h-1v1h-1v-1h-1v-1h1zM354 113h1v1h1v1h-1v1h-1v-1h-1v-1h1zM354 169h1v1h1v1h-1v1h-1v-1h-1v-1h1zM354 334h1v1h1v1h-1v1h-1v-1h-1v-1h1zM355 47h1v1h1v1h-1v1h-1v-1h-1v-1h1zM355 133h1v1h1v1h-1v1h-1v-1h-1v-1h1zM355 323h1v1h1v1h-1v1h-1v-1h-1v-1h1zM356 3h1v1h1v1h-1v1h-1v-1h-1v-1h1zM356 18h1v1h1v1h-1v1h-1v-1h-1v-1h1zM356 56h1v1h1v1h-1v1h-1v-1h-1v-1h1zM356 159h1v1h1v1h-1v1h-1v-1h-1v-1h1zM356 161h1v1h1v1h-1v1h-1v-1h-1v-1h1zM356 324h1v1h1v1h-1v1h-1v-1h-1v-1h1zM357 67h1v1h1v1h-1v1h-1v-1h-1v-1h1zM357 97h1v1h1v1h-1v1h-1v-1h-1v-1h1zM357 114h1v1h1v1h-1v1h-1v-1h-1v-1h1zM358 163h1v1h1v1h-1v1h-1v-1h-1v-1h1zM359 35h1v1h1v1h-1v1h-1v-1h-1v-1h1zM359 47h1v1h1v1h-1v1h-1v-1h-1v-1h1zM359 59h1v1h1v1h-1v1h-1v-1h-1v-1h1zM359 107h1v1h1v1h-1v1h-1v-1h-1v-1h1zM359 108h1v1h1v1h-1v1h-1v-1h-1v-1h1zM359 162h1v1h1v1h-1v1h-1v-1h-1v-1h1zM360 41h1v1h1v1h-1v1h-1v-1h-1v-1h1zM360 158h1v1h1v1h-1v1h-1v-1h-1v-1h1zM360 160h1v1h1v1h-1v1h-1v-1h-1v-1h1zM360 162h1v1h1v1h-1v1h-1v-1h-1v-1h1zM361 31h1v1h1v1h-1v1h-1v-1h-1v-1h1zM361 76h1v1h1v1h-1v1h-1v-1h-1v-1h1zM361 84h1v1h1v1h-1v1h-1v-1h-1v-1h1zM361 100h1v1h1v1h-1v1h-1v-1h-1v-1h1zM361 114h1v1h1v1h-1v1h-1v-1h-1v-1h1zM361 163h1v1h1v1h-1v1h-1v-1h-1v-1h1zM362 31h1v1h1v1h-1v1h-1v-1h-1v-1h1zM362 91h1v1h1v1h-1v1h-1v-1h-1v-1h1zM362 102h1v1h1v1h-1v1h-1v-1h-1v-1h1zM362 118h1v1h1v1h-1v1h-1v-1h-1v-1h1zM362 132h1v1h1v1h-1v1h-1v-1h-1v-1h1zM362 167h1v1h1v1h-1v1h-1v-1h-1v-1h1zM362 319h1v1h1v1h-1v1h-1v-1h-1v-1h1zM362 333h1v1h1v1h-1v1h-1v-1h-1v-1h1zM363 64h1v1h1v1h-1v1h-1v-1h-1v-1h1zM363 93h1v1h1v1h-1v1h-1v-1h-1v-1h1zM363 115h1v1h1v1h-1v1h-1v-1h-1v-1h1zM363 162h1v1h1v1h-1v1h-1v-1h-1v-1h1zM364 -1h1v1h1v1h-1v1h-1v-1h-1v-1h1zM364 42h1v1h1v1h-1v1h-1v-1h-1v-1h1zM364 77h1v1h1v1h-1v1h-1v-1h-1v-1h1zM364 85h1v1h1v1h-1v1h-1v-1h-1v-1h1zM364 92h1v1h1v1h-1v1h-1v-1h-1v-1h1zM364 94h1v1h1v1h-1v1h-1v-1h-1v-1h1zM364 147h1v1h1v1h-1v1h-1v-1h-1v-1h1zM364 150h1v1h1v1h-1v1h-1v-1h-1v-1h1zM364 164h1v1h1v1h-1v1h-1v-1h-1v-1h1zM364 334h1v1h1v1h-1v1h-1v-1h-1v-1h1zM365 68h1v1h1v1h-1v1h-1v-1h-1v-1h1zM365 96h1v1h1v1h-1v1h-1v-1h-1v-1h1zM365 104h1v1h1v1h-1v1h-1v-1h-1v-1h1zM365 116h1v1h1v1h-1v1h-1v-1h-1v-1h1zM365 135h1v1h1v1h-1v1h-1v-1h-1v-1h1zM365 159h1v1h1v1h-1v1h-1v-1h-1v-1h1zM365 165h1v1h1v1h-1v1h-1v-1h-1v-1h1zM365 168h1v1h1v1h-1v1h-1v-1h-1v-1h1zM366 36h1v1h1v1h-1v1h-1v-1h-1v-1h1zM366 53h1v1h1v1h-1v1h-1v-1h-1v-1h1zM366 55h1v1h1v1h-1v1h-1v-1h-1v-1h1zM366 82h1v1h1v1h-1v1h-1v-1h-1v-1h1zM366 131h1v1h1v1h-1v1h-1v-1h-1v-1h1zM366 165h1v1h1v1h-1v1h-1v-1h-1v-1h1zM366 333h1v1h1v1h-1v1h-1v-1h-1v-1h1zM367 30h1v1h1v1h-1v1h-1v-1h-1v-1h1zM367 91h1v1h1v1h-1v1h-1v-1h-1v-1h1zM367 150h1v1h1v1h-1v1h-1v-1h-1v-1h1zM367 156h1v1h1v1h-1v1h-1v-1h-1v-1h1zM367 166h1v1h1v1h-1v1h-1v-1h-1v-1h1zM367 169h1v1h1v1h-1v1h-1v-1h-1v-1h1zM367 334h1v1h1v1h-1v1h-1v-1h-1v-1h1zM368 18h1v1h1v1h-1v1h-1v-1h-1v-1h1zM368 75h1v1h1v1h-1v1h-1v-1h-1v-1h1zM368 87h1v1h1v1h-1v1h-1v-1h-1v-1h1zM368 167h1v1h1v1h-1v1h-1v-1h-1v-1h1zM369 22h1v1h1v1h-1v1h-1v-1h-1v-1h1zM369 61h1v1h1v1h-1v1h-1v-1h-1v-1h1zM369 99h1v1h1v1h-1v1h-1v-1h-1v-1h1zM369 139h1v1h1v1h-1v1h-1v-1h-1v-1h1zM369 164h1v1h1v1h-1v1h-1v-1h-1v-1h1zM371 21h1v1h1v1h-1v1h-1v-1h-1v-1h1zM371 33h1v1h1v1h-1v1h-1v-1h-1v-1h1zM371 48h1v1h1v1h-1v1h-1v-1h-1v-1h1zM371 57h1v1h1v1h-1v1h-1v-1h-1v-1h1zM371 161h1v1h1v1h-1v1h-1v-1h-1v-1h1zM372 38h1v1h1v1h-1v1h-1v-1h-1v-1h1zM372 41h1v1h1v1h-1v1h-1v-1h-1v-1h1zM372 51h1v1h1v1h-1v1h-1v-1h-1v-1h1zM372 67h1v1h1v1h-1v1h-1v-1h-1v-1h1zM372 82h1v1h1v1h-1v1h-1v-1h-1v-1h1zM372 89h1v1h1v1h-1v1h-1v-1h-1v-1h1zM372 134h1v1h1v1h-1v1h-1v-1h-1v-1h1zM372 138h1v1h1v1h-1v1h-1v-1h-1v-1h1zM372 140h1v1h1v1h-1v1h-1v-1h-1v-1h1zM372 153h1v1h1v1h-1v1h-1v-1h-1v-1h1zM372 334h1v1h1v1h-1v1h-1v-1h-1v-1h1zM373 27h1v1h1v1h-1v1h-1v-1h-1v-1h1zM373 44h1v1h1v1h-1v1h-1v-1h-1v-1h1zM373 107h1v1h1v1h-1v1h-1v-1h-1v-1h1zM373 126h1v1h1v1h-1v1h-1v-1h-1v-1h1zM373 133h1v1h1v1h-1v1h-1v-1h-1v-1h1zM373 142h1v1h1v1h-1v1h-1v-1h-1v-1h1zM374 37h1v1h1v1h-1v1h-1v-1h-1v-1h1zM374 42h1v1h1v1h-1v1h-1v-1h-1v-1h1zM374 66h1v1h1v1h-1v1h-1v-1h-1v-1h1zM374 101h1v1h1v1h-1v1h-1v-1h-1v-1h1zM374 122h1v1h1v1h-1v1h-1v-1h-1v-1h1zM374 146h1v1h1v1h-1v1h-1v-1h-1v-1h1zM374 309h1v1h1v1h-1v1h-1v-1h-1v-1h1zM375 13h1v1h1v1h-1v1h-1v-1h-1v-1h1zM375 95h1v1h1v1h-1v1h-1v-1h-1v-1h1zM375 111h1v1h1v1h-1v1h-1v-1h-1v-1h1zM375 117h1v1h1v1h-1v1h-1v-1h-1v-1h1zM375 137h1v1h1v1h-1v1h-1v-1h-1v-1h1zM375 149h1v1h1v1h-1v1h-1v-1h-1v-1h1zM375 153h1v1h1v1h-1v1h-1v-1h-1v-1h1zM375 334h1v1h1v1h-1v1h-1v-1h-1v-1h1zM376 39h1v1h1v1h-1v1h-1v-1h-1v-1h1zM376 49h1v1h1v1h-1v1h-1v-1h-1v-1h1zM376 64h1v1h1v1h-1v1h-1v-1h-1v-1h1zM376 112h1v1h1v1h-1v1h-1v-1h-1v-1h1zM376 131h1v1h1v1h-1v1h-1v-1h-1v-1h1zM376 324h1v1h1v1h-1v1h-1v-1h-1v-1h1zM377 86h1v1h1v1h-1v1h-1v-1h-1v-1h1zM377 104h1v1h1v1h-1v1h-1v-1h-1v-1h1zM377 129h1v1h1v1h-1v1h-1v-1h-1v-1h1zM378 -1h1v1h1v1h-1v1h-1v-1h-1v-1h1zM378 45h1v1h1v1h-1v1h-1v-1h-1v-1h1zM378 54h1v1h1v1h-1v1h-1v-1h-1v-1h1zM378 82h1v1h1v1h-1v1h-1v-1h-1v-1h1zM378 102h1v1h1v1h-1v1h-1v-1h-1v-1h1zM378 142h1v1h1v1h-1v1h-1v-1h-1v-1h1zM379 123h1v1h1v1h-1v1h-1v-1h-1v-1h1zM379 124h1v1h1v1h-1v1h-1v-1h-1v-1h1zM379 153h1v1h1v1h-1v1h-1v-1h-1v-1h1zM379 167h1v1h1v1h-1v1h-1v-1h-1v-1h1zM380 1h1v1h1v1h-1v1h-1v-1h-1v-1h1zM380 113h1v1h1v1h-1v1h-1v-1h-1v-1h1zM380 168h1v1h1v1h-1v1h-1v-1h-1v-1h1zM380 170h1v1h1v1h-1v1h-1v-1h-1v-1h1zM381 14h1v1h1v1h-1v1h-1v-1h-1v-1h1zM381 44h1v1h1v1h-1v1h-1v-1h-1v-1h1zM381 84h1v1h1v1h-1v1h-1v-1h-1v-1h1zM381 334h1v1h1v1h-1v1h-1v-1h-1v-1h1zM382 31h1v1h1v1h-1v1h-1v-1h-1v-1h1zM382 125h1v1h1v1h-1v1h-1v-1h-1v-1h1zM382 146h1v1h1v1h-1v1h-1v-1h-1v-1h1zM383 62h1v1h1v1h-1v1h-1v-1h-1v-1h1zM383 78h1v1h1v1h-1v1h-1v-1h-1v-1h1zM383 176h1v1h1v1h-1v1h-1v-1h-1v-1h1zM383 325h1v1h1v1h-1v1h-1v-1h-1v-1h1zM384 35h1v1h1v1h-1v1h-1v-1h-1v-1h1zM385 28h1v1h1v1h-1v1h-1v-1h-1v-1h1zM385 46h1v1h1v1h-1v1h-1v-1h-1v-1h1zM385 70h1v1h1v1h-1v1h-1v-1h-1v-1h1zM385 118h1v1h1v1h-1v1h-1v-1h-1v-1h1zM385 170h1v1h1v1h-1v1h-1v-1h-1v-1h1zM385 320h1v1h1v1h-1v1h-1v-1h-1v-1h1zM386 76h1v1h1v1h-1v1h-1v-1h-1v-1h1zM386 159h1v1h1v1h-1v1h-1v-1h-1v-1h1zM386 172h1v1h1v1h-1v1h-1v-1h-1v-1h1zM387 41h1v1h1v1h-1v1h-1v-1h-1v-1h1zM387 127h1v1h1v1h-1v1h-1v-1h-1v-1h1zM387 171h1v1h1v1h-1v1h-1v-1h-1v-1h1zM387 174h1v1h1v1h-1v1h-1v-1h-1v-1h1zM387 327h1v1h1v1h-1v1h-1v-1h-1v-1h1zM388 60h1v1h1v1h-1v1h-1v-1h-1v-1h1zM388 319h1v1h1v1h-1v1h-1v-1h-1v-1h1zM388 323h1v1h1v1h-1v1h-1v-1h-1v-1h1zM389 28h1v1h1v1h-1v1h-1v-1h-1v-1h1zM389 120h1v1h1v1h-1v1h-1v-1h-1v-1h1zM389 146h1v1h1v1h-1v1h-1v-1h-1v-1h1zM389 164h1v1h1v1h-1v1h-1v-1h-1v-1h1zM390 80h1v1h1v1h-1v1h-1v-1h-1v-1h1zM390 183h1v1h1v1h-1v1h-1v-1h-1v-1h1zM390 321h1v1h1v1h-1v1h-1v-1h-1v-1h1zM390 329h1v1h1v1h-1v1h-1v-1h-1v-1h1zM391 71h1v1h1v1h-1v1h-1v-1h-1v-1h1zM392 120h1v1h1v1h-1v1h-1v-1h-1v-1h1zM392 317h1v1h1v1h-1v1h-1v-1h-1v-1h1zM393 45h1v1h1v1h-1v1h-1v-1h-1v-1h1zM393 55h1v1h1v1h-1v1h-1v-1h-1v-1h1zM393 92h1v1h1v1h-1v1h-1v-1h-1v-1h1zM393 174h1v1h1v1h-1v1h-1v-1h-1v-1h1zM394 16h1v1h1v1h-1v1h-1v-1h-1v-1h1zM394 29h1v1h1v1h-1v1h-1v-1h-1v-1h1zM396 328h1v1h1v1h-1v1h-1v-1h-1v-1h1zM397 31h1v1h1v1h-1v1h-1v-1h-1v-1h1zM397 316h1v1h1v1h-1v1h-1v-1h-1v-1h1zM397 322h1v1h1v1h-1v1h-1v-1h-1v-1h1zM399 322h1v1h1v1h-1v1h-1v-1h-1v-1h1zM400 171h1v1h1v1h-1v1h-1v-1h-1v-1h1zM400 215h1v1h1v1h-1v1h-1v-1h-1v-1h1zM400 257h1v1h1v1h-1v1h-1v-1h-1v-1h1zM400 286h1v1h1v1h-1v1h-1v-1h-1v-1h1zM400 293h1v1h1v1h-1v1h-1v-1h-1v-1h1zM400 310h1v1h1v1h-1v1h-1v-1h-1v-1h1zM400 314h1v1h1v1h-1v1h-1v-1h-1v-1h1zM400 322h1v1h1v1h-1v1h-1v-1h-1v-1h1zM401 248h1v1h1v1h-1v1h-1v-1h-1v-1h1zM401 249h1v1h1v1h-1v1h-1v-1h-1v-1h1zM401 278h1v1h1v1h-1v1h-1v-1h-1v-1h1zM401 287h1v1h1v1h-1v1h-1v-1h-1v-1h1zM401 295h1v1h1v1h-1v1h-1v-1h-1v-1h1zM401 298h1v1h1v1h-1v1h-1v-1h-1v-1h1zM401 304h1v1h1v1h-1v1h-1v-1h-1v-1h1zM401 313h1v1h1v1h-1v1h-1v-1h-1v-1h1zM402 163h1v1h1v1h-1v1h-1v-1h-1v-1h1zM402 279h1v1h1v1h-1v1h-1v-1h-1v-1h1zM402 287h1v1h1v1h-1v1h-1v-1h-1v-1h1zM402 291h1v1h1v1h-1v1h-1v-1h-1v-1h1zM402 305h1v1h1v1h-1v1h-1v-1h-1v-1h1zM402 311h1v1h1v1h-1v1h-1v-1h-1v-1h1zM403 29h1v1h1v1h-1v1h-1v-1h-1v-1h1zM403 211h1v1h1v1h-1v1h-1v-1h-1v-1h1zM403 265h1v1h1v1h-1v1h-1v-1h-1v-1h1zM403 266h1v1h1v1h-1v1h-1v-1h-1v-1h1zM403 271h1v1h1v1h-1v1h-1v-1h-1v-1h1zM403 298h1v1h1v1h-1v1h-1v-1h-1v-1h1zM404 244h1v1h1v1h-1v1h-1v-1h-1v-1h1zM404 251h1v1h1v1h-1v1h-1v-1h-1v-1h1zM404 268h1v1h1v1h-1v1h-1v-1h-1v-1h1zM404 290h1v1h1v1h-1v1h-1v-1h-1v-1h1zM404 297h1v1h1v1h-1v1h-1v-1h-1v-1h1zM405 256h1v1h1v1h-1v1h-1v-1h-1v-1h1zM405 257h1v1h1v1h-1v1h-1v-1h-1v-1h1zM405 276h1v1h1v1h-1v1h-1v-1h-1v-1h1zM405 322h1v1h1v1h-1v1h-1v-1h-1v-1h1zM406 318h1v1h1v1h-1v1h-1v-1h-1v-1h1zM406 319h1v1h1v1h-1v1h-1v-1h-1v-1h1zM407 261h1v1h1v1h-1v1h-1v-1h-1v-1h1zM407 294h1v1h1v1h-1v1h-1v-1h-1v-1h1zM407 296h1v1h1v1h-1v1h-1v-1h-1v-1h1zM407 302h1v1h1v1h-1v1h-1v-1h-1v-1h1zM407 320h1v1h1v1h-1v1h-1v-1h-1v-1h1zM408 279h1v1h1v1h-1v1h-1v-1h-1v-1h1zM408 311h1v1h1v1h-1v1h-1v-1h-1v-1h1zM408 329h1v1h1v1h-1v1h-1v-1h-1v-1h1zM409 283h1v1h1v1h-1v1h-1v-1h-1v-1h1zM409 309h1v1h1v1h-1v1h-1v-1h-1v-1h1zM409 323h1v1h1v1h-1v1h-1v-1h-1v-1h1zM410 288h1v1h1v1h-1v1h-1v-1h-1v-1h1zM410 298h1v1h1v1h-1v1h-1v-1h-1v-1h1zM410 300h1v1h1v1h-1v1h-1v-1h-1v-1h1zM410 307h1v1h1v1h-1v1h-1v-1h-1v-1h1zM410 311h1v1h1v1h-1v1h-1v-1h-1v-1h1zM410 314h1v1h1v1h-1v1h-1v-1h-1v-1h1zM410 316h1v1h1v1h-1v1h-1v-1h-1v-1h1zM411 280h1v1h1v1h-1v1h-1v-1h-1v-1h1zM411 283h1v1h1v1h-1v1h-1v-1h-1v-1h1zM411 312h1v1h1v1h-1v1h-1v-1h-1v-1h1zM412 263h1v1h1v1h-1v1h-1v-1h-1v-1h1zM412 314h1v1h1v1h-1v1h-1v-1h-1v-1h1zM412 332h1v1h1v1h-1v1h-1v-1h-1v-1h1zM412 333h1v1h1v1h-1v1h-1v-1h-1v-1h1zM413 247h1v1h1v1h-1v1h-1v-1h-1v-1h1zM413 265h1v1h1v1h-1v1h-1v-1h-1v-1h1zM413 305h1v1h1v1h-1v1h-1v-1h-1v-1h1zM413 333h1v1h1v1h-1v1h-1v-1h-1v-1h1zM413 334h1v1h1v1h-1v1h-1v-1h-1v-1h1zM414 296h1v1h1v1h-1v1h-1v-1h-1v-1h1zM415 288h1v1h1v1h-1v1h-1v-1h-1v-1h1zM415 290h1v1h1v1h-1v1h-1v-1h-1v-1h1zM415 300h1v1h1v1h-1v1h-1v-1h-1v-1h1zM416 269h1v1h1v1h-1v1h-1v-1h-1v-1h1zM416 276h1v1h1v1h-1v1h-1v-1h-1v-1h1zM416 318h1v1h1v1h-1v1h-1v-1h-1v-1h1zM416 325h1v1h1v1h-1v1h-1v-1h-1v-1h1zM416 327h1v1h1v1h-1v1h-1v-1h-1v-1h1zM417 258h1v1h1v1h-1v1h-1v-1h-1v-1h1zM417 310h1v1h1v1h-1v1h-1v-1h-1v-1h1zM417 334h1v1h1v1h-1v1h-1v-1h-1v-1h1zM418 275h1v1h1v1h-1v1h-1v-1h-1v-1h1zM418 276h1v1h1v1h-1v1h-1v-1h-1v-1h1zM418 308h1v1h1v1h-1v1h-1v-1h-1v-1h1zM418 313h1v1h1v1h-1v1h-1v-1h-1v-1h1zM419 248h1v1h1v1h-1v1h-1v-1h-1v-1h1zM419 312h1v1h1v1h-1v1h-1v-1h-1v-1h1zM420 330h1v1h1v1h-1v1h-1v-1h-1v-1h1zM422 298h1v1h1v1h-1v1h-1v-1h-1v-1h1zM422 319h1v1h1v1h-1v1h-1v-1h-1v-1h1zM423 284h1v1h1v1h-1v1h-1v-1h-1v-1h1zM424 330h1v1h1v1h-1v1h-1v-1h-1v-1h1zM425 286h1v1h1v1h-1v1h-1v-1h-1v-1h1zM425 291h1v1h1v1h-1v1h-1v-1h-1v-1h1zM425 312h1v1h1v1h-1v1h-1v-1h-1v-1h1zM425 330h1v1h1v1h-1v1h-1v-1h-1v-1h1zM426 331h1v1h1v1h-1v1h-1v-1h-1v-1h1zM427 321h1v1h1v1h-1v1h-1v-1h-1v-1h1zM427 328h1v1h1v1h-1v1h-1v-1h-1v-1h1zM427 332h1v1h1v1h-1v1h-1v-1h-1v-1h1zM428 318h1v1h1v1h-1v1h-1v-1h-1v-1h1zM431 312h1v1h1v1h-1v1h-1v-1h-1v-1h1zM432 321h1v1h1v1h-1v1h-1v-1h-1v-1h1zM434 291h1v1h1v1h-1v1h-1v-1h-1v-1h1zM434 325h1v1h1v1h-1v1h-1v-1h-1v-1h1zM435 308h1v1h1v1h-1v1h-1v-1h-1v-1h1zM435 312h1v1h1v1h-1v1h-1v-1h-1v-1h1zM436 294h1v1h1v1h-1v1h-1v-1h-1v-1h1zM440 322h1v1h1v1h-1v1h-1v-1h-1v-1h1zM442 318h1v1h1v1h-1v1h-1v-1h-1v-1h1zM443 313h1v1h1v1h-1v1h-1v-1h-1v-1h1zM443 331h1v1h1v1h-1v1h-1v-1h-1v-1h1zM444 308h1v1h1v1h-1v1h-1v-1h-1v-1h1zM446 321h1v1h1v1h-1v1h-1v-1h-1v-1h1zM447 331h1v1h1v1h-1v1h-1v-1h-1v-1h1zM447 332h1v1h1v1h-1v1h-1v-1h-1v-1h1zM449 330h1v1h1v1h-1v1h-1v-1h-1v-1h1zM450 318h1v1h1v1h-1v1h-1v-1h-1v-1h1zM453 321h1v1h1v1h-1v1h-1v-1h-1v-1h1zM454 314h1v1h1v1h-1v1h-1v-1h-1v-1h1zM454 327h1v1h1v1h-1v1h-1v-1h-1v-1h1zM456 288h1v1h1v1h-1v1h-1v-1h-1v-1h1zM461 326h1v1h1v1h-1v1h-1v-1h-1v-1h1zM462 319h1v1h1v1h-1v1h-1v-1h-1v-1h1zM466 320h1v1h1v1h-1v1h-1v-1h-1v-1h1zM468 311h1v1h1v1h-1v1h-1v-1h-1v-1h1zM469 330h1v1h1v1h-1v1h-1v-1h-1v-1h1zM471 321h1v1h1v1h-1v1h-1v-1h-1v-1h1zM482 316h1v1h1v1h-1v1h-1v-1h-1v-1h1zM486 327h1v1h1v1h-1v1h-1v-1h-1v-1h1zM487 321h1v1h1v1h-1v1h-1v-1h-1v-1h1zM488 332h1v1h1v1h-1v1h-1v-1h-1v-1h1zM495 274h1v1h1v1h-1v1h-1v-1h-1v-1h1zM498 313h1v1h1v1h-1v1h-1v-1h-1v-1h1zM504 331h1v1h1v1h-1v1h-1v-1h-1v-1h1zM517 333h1v1h1v1h-1v1h-1v-1h-1v-1h1zM519 327h1v1h1v1h-1v1h-1v-1h-1v-1h1zM525 328h1v1h1v1h-1v1h-1v-1h-1v-1h1zM528 325h1v1h1v1h-1v1h-1v-1h-1v-1h1zM531 331h1v1h1v1h-1v1h-1v-1h-1v-1h1zM535 333h1v1h1v1h-1v1h-1v-1h-1v-1h1zM539 329h1v1h1v1h-1v1h-1v-1h-1v-1h1zM539 330h1v1h1v1h-1v1h-1v-1h-1v-1h1zM542 308h1v1h1v1h-1v1h-1v-1h-1v-1h1zM547 328h1v1h1v1h-1v1h-1v-1h-1v-1h1zM572 331h1v1h1v1h-1v1h-1v-1h-1v-1h1zM581 333h1v1h1v1h-1v1h-1v-1h-1v-1h1zM582 332h1v1h1v1h-1v1h-1v-1h-1v-1h1zM587 319h1v1h1v1h-1v1h-1v-1h-1v-1h1zM591 332h1v1h1v1h-1v1h-1v-1h-1v-1h1zM595 321h1v1h1v1h-1v1h-1v-1h-1v-1h1zM608 333h1v1h1v1h-1v1h-1v-1h-1v-1h1zM618 332h1v1h1v1h-1v1h-1v-1h-1v-1h1zM625 333h1v1h1v1h-1v1h-1v-1h-1v-1h1zM632 332h1v1h1v1h-1v1h-1v-1h-1v-1h1zM662 318h1v1h1v1h-1v1h-1v-1h-1v-1h1zM682 332h1v1h1v1h-1v1h-1v-1h-1v-1h1zM692 327h1v1h1v1h-1v1h-1v-1h-1v-1h1zM702 332h1v1h1v1h-1v1h-1v-1h-1v-1h1zM715 326h1v1h1v1h-1v1h-1v-1h-1v-1h1z"/>
<path fill="#5b6012" d="M16 327h1v1h1v1h-1v1h-1v-1h-1v-1h1zM319 183h1v1h1v1h-1v1h-1v-1h-1v-1h1zM323 216h1v1h1v1h-1v1h-1v-1h-1v-1h1zM325 230h1v1h1v1h-1v1h-1v-1h-1v-1h1zM330 222h1v1h1v1h-1v1h-1v-1h-1v-1h1zM334 203h1v1h1v1h-1v1h-1v-1h-1v-1h1zM335 257h1v1h1v1h-1v1h-1v-1h-1v-1h1zM336 188h1v1h1v1h-1v1h-1v-1h-1v-1h1zM336 225h1v1h1v1h-1v1h-1v-1h-1v-1h1zM339 171h1v1h1v1h-1v1h-1v-1h-1v-1h1zM342 219h1v1h1v1h-1v1h-1v-1h-1v-1h1zM343 229h1v1h1v1h-1v1h-1v-1h-1v-1h1zM347 176h1v1h1v1h-1v1h-1v-1h-1v-1h1zM348 181h1v1h1v1h-1v1h-1v-1h-1v-1h1zM351 128h1v1h1v1h-1v1h-1v-1h-1v-1h1zM351 212h1v1h1v1h-1v1h-1v-1h-1v-1h1zM355 164h1v1h1v1h-1v1h-1v-1h-1v-1h1zM357 282h1v1h1v1h-1v1h-1v-1h-1v-1h1zM358 112h1v1h1v1h-1v1h-1v-1h-1v-1h1zM362 213h1v1h1v1h-1v1h-1v-1h-1v-1h1zM364 195h1v1h1v1h-1v1h-1v-1h-1v-1h1zM368 270h1v1h1v1h-1v1h-1v-1h-1v-1h1zM371 128h1v1h1v1h-1v1h-1v-1h-1v-1h1zM371 161h1v1h1v1h-1v1h-1v-1h-1v-1h1zM373 220h1v1h1v1h-1v1h-1v-1h-1v-1h1zM374 165h1v1h1v1h-1v1h-1v-1h-1v-1h1zM374 191h1v1h1v1h-1v1h-1v-1h-1v-1h1zM375 323h1v1h1v1h-1v1h-1v-1h-1v-1h1zM376 135h1v1h1v1h-1v1h-1v-1h-1v-1h1zM377 213h1v1h1v1h-1v1h-1v-1h-1v-1h1zM378 165h1v1h1v1h-1v1h-1v-1h-1v-1h1zM379 157h1v1h1v1h-1v1h-1v-1h-1v-1h1zM380 191h1v1h1v1h-1v1h-1v-1h-1v-1h1zM380 212h1v1h1v1h-1v1h-1v-1h-1v-1h1zM381 204h1v1h1v1h-1v1h-1v-1h-1v-1h1zM383 158h1v1h1v1h-1v1h-1v-1h-1v-1h1zM383 275h1v1h1v1h-1v1h-1v-1h-1v-1h1zM384 200h1v1h1v1h-1v1h-1v-1h-1v-1h1zM386 224h1v1h1v1h-1v1h-1v-1h-1v-1h1zM387 193h1v1h1v1h-1v1h-1v-1h-1v-1h1zM390 164h1v1h1v1h-1v1h-1v-1h-1v-1h1zM391 212h1v1h1v1h-1v1h-1v-1h-1v-1h1zM393 268h1v1h1v1h-1v1h-1v-1h-1v-1h1zM395 201h1v1h1v1h-1v1h-1v-1h-1v-1h1zM396 159h1v1h1v1h-1v1h-1v-1h-1v-1h1zM399 291h1v1h1v1h-1v1h-1v-1h-1v-1h1zM400 251h1v1h1v1h-1v1h-1v-1h-1v-1h1zM405 241h1v1h1v1h-1v1h-1v-1h-1v-1h1zM408 221h1v1h1v1h-1v1h-1v-1h-1v-1h1zM413 237h1v1h1v1h-1v1h-1v-1h-1v-1h1zM419 243h1v1h1v1h-1v1h-1v-1h-1v-1h1zM419 253h1v1h1v1h-1v1h-1v-1h-1v-1h1z"/>
<path fill="#c6d25c" d="M16 328h1v1h-1zM319 184h1v1h-1zM323 217h1v1h-1zM325 231h1v1h-1zM330 223h1v1h-1zM334 204h1v1h-1zM335 258h1v1h-1zM336 189h1v1h-1zM336 226h1v1h-1zM339 172h1v1h-1zM342 220h1v1h-1zM343 230h1v1h-1zM347 177h1v1h-1zM348 182h1v1h-1zM351 129h1v1h-1zM351 213h1v1h-1zM355 165h1v1h-1zM357 283h1v1h-1zM358 113h1v1h-1zM362 214h1v1h-1zM364 196h1v1h-1zM368 271h1v1h-1zM371 129h1v1h-1zM371 162h1v1h-1zM373 221h1v1h-1zM374 166h1v1h-1zM374 192h1v1h-1zM375 324h1v1h-1zM376 136h1v1h-1zM377 214h1v1h-1zM378 166h1v1h-1zM379 158h1v1h-1zM380 192h1v1h-1zM380 213h1v1h-1zM381 205h1v1h-1zM383 159h1v1h-1zM383 276h1v1h-1zM384 201h1v1h-1zM386 225h1v1h-1zM387 194h1v1h-1zM390 165h1v1h-1zM391 213h1v1h-1zM393 269h1v1h-1zM395 202h1v1h-1zM396 160h1v1h-1zM399 292h1v1h-1zM400 252h1v1h-1zM405 242h1v1h-1zM408 222h1v1h-1zM413 238h1v1h-1zM419 244h1v1h-1zM419 254h1v1h-1z"/>
<g font-size="11" text-anchor="end">
<text x="362" y="34">53</text>
<text x="362" y="63">48</text>
<text x="362" y="92">43</text>
<text x="362" y="121">38</text>
<text x="362" y="150">33</text>
<text x="362" y="179">28</text>
<text x="362" y="209">23</text>
<text x="362" y="238">18</text>
<text x="362" y="267">13</text>
<text x="362" y="296">8</text>
<text x="362" y="325">3</text>
<text x="362" y="354">3</text>
</g>
<rect x="370" y="31" width="1" height="319" fill="#5a6114"/>
<path fill="#dedede" d="M50 30h641v1h-641zM50 350h641v1h-641zM50 30h1v321h-1zM690 30h1v321h-1z"/>
</svg></body></html>
